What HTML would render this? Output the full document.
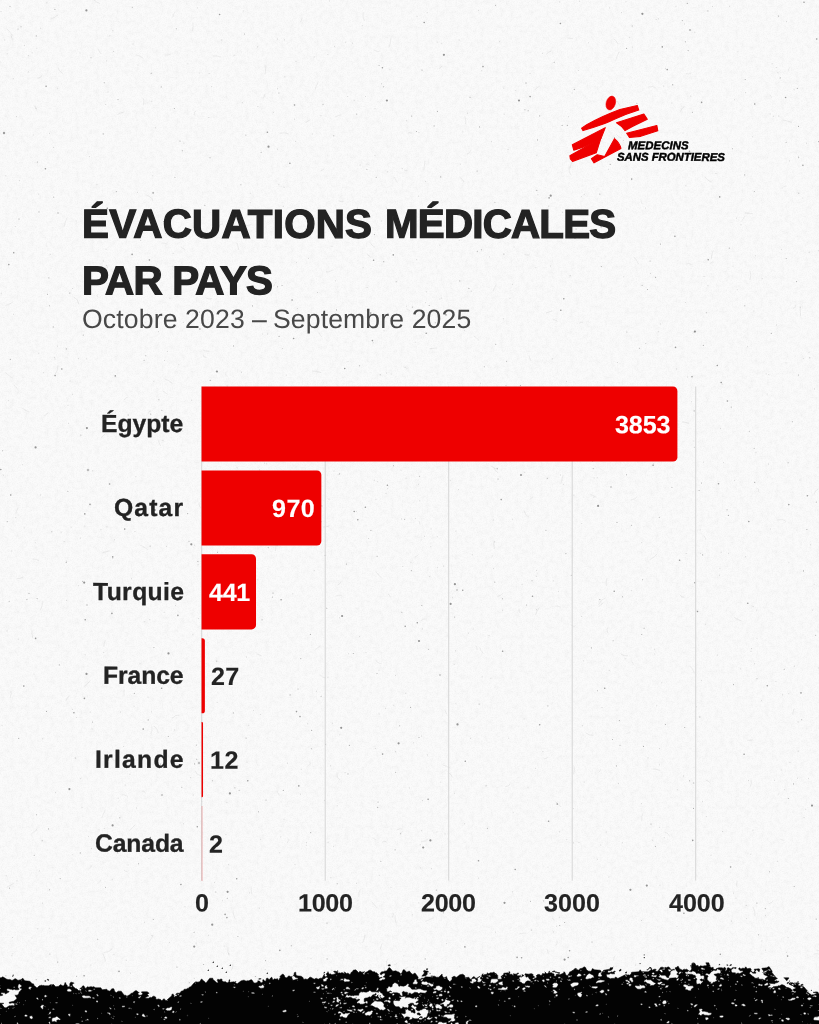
<!DOCTYPE html>
<html lang="fr">
<head>
<meta charset="utf-8">
<title>Évacuations médicales par pays</title>
<style>
  html,body{margin:0;padding:0;}
  body{width:819px;height:1024px;position:relative;overflow:hidden;background:#fbfbfb;
       font-family:"Liberation Sans",sans-serif;color:#232323;}
  .abs{position:absolute;}
  .tx{position:absolute;white-space:nowrap;}
  .b{font-weight:bold;}
  .bi{font-weight:bold;font-style:italic;color:#000;}
  .sub{color:#484848;}
  .w{color:#fff;}
</style>
</head>
<body>
<svg class="abs" style="left:0;top:0" width="819" height="1024" viewBox="0 0 819 1024">
<defs><filter id="mot" x="0" y="0" width="100%" height="100%"><feTurbulence type="fractalNoise" baseFrequency="0.2" numOctaves="3" seed="4"/><feColorMatrix type="matrix" values="0 0 0 0 0  0 0 0 0 0  0 0 0 0 0  2.2 0 0 0 -0.85"/></filter><filter id="grn" x="0" y="0" width="100%" height="100%"><feTurbulence type="fractalNoise" baseFrequency="0.8" numOctaves="2" seed="8"/><feColorMatrix type="matrix" values="0 0 0 0 0  0 0 0 0 0  0 0 0 0 0  1.6 0 0 0 -0.6"/></filter></defs>
<rect width="819" height="1024" fill="#000" filter="url(#mot)" opacity="0.018"/>
<rect width="819" height="1024" fill="#000" filter="url(#grn)" opacity="0.035"/>
<path d="M659.3 827.3h.01M234.1 55.2h.01M334.5 46.4h.01M818.3 668.0h.01M691.4 401.8h.01M222.3 900.8h.01M556.2 891.0h.01M733.4 893.1h.01M579.4 1.2h.01M357.6 208.1h.01M660.3 324.0h.01M415.3 518.5h.01M11.9 955.6h.01M560.4 475.0h.01M392.7 981.5h.01M329.3 0.9h.01M268.1 1012.6h.01M674.2 161.0h.01M114.5 539.8h.01M402.8 566.5h.01M707.9 285.4h.01M46.9 2.8h.01M4.7 40.0h.01M175.0 208.1h.01M286.2 375.2h.01M307.7 723.7h.01M413.7 742.8h.01M258.9 506.2h.01M35.2 542.7h.01M429.8 576.6h.01M611.4 978.3h.01M363.2 267.7h.01M134.1 706.2h.01M410.9 562.2h.01M165.0 750.3h.01M158.4 331.6h.01M766.1 373.9h.01M0.0 61.9h.01M324.4 800.4h.01M512.5 519.2h.01M622.3 842.7h.01M317.8 970.2h.01M720.4 428.6h.01M296.0 61.4h.01M187.9 63.8h.01M362.2 25.7h.01M752.4 136.8h.01M778.7 116.1h.01M656.1 19.5h.01M761.6 700.7h.01M777.9 72.7h.01M584.2 194.4h.01M645.7 343.5h.01M464.5 823.8h.01M259.3 908.1h.01M107.0 526.8h.01M280.8 836.9h.01M782.4 694.8h.01M537.9 194.8h.01M28.6 71.9h.01M148.9 858.6h.01M676.0 6.3h.01M12.8 953.9h.01M216.7 598.4h.01M812.7 610.0h.01M661.8 682.8h.01M535.9 267.6h.01M72.5 709.3h.01M427.5 755.0h.01M174.1 1011.5h.01M209.1 73.5h.01M459.1 40.0h.01M788.1 937.5h.01M54.3 357.4h.01M734.4 480.4h.01M746.2 905.5h.01M786.4 21.6h.01M455.9 531.1h.01M155.4 127.8h.01M266.7 463.9h.01M578.9 842.4h.01M745.5 92.7h.01M398.3 434.1h.01M597.3 859.3h.01M134.9 531.5h.01M337.1 805.7h.01M375.0 108.7h.01M243.7 11.0h.01M375.0 155.6h.01M604.1 386.0h.01M492.2 556.0h.01M597.2 477.8h.01M712.4 6.4h.01M437.2 42.2h.01M515.8 90.6h.01M772.1 63.7h.01M128.0 865.0h.01M440.8 782.1h.01M391.0 887.4h.01M328.1 842.4h.01M277.6 149.2h.01M332.0 246.3h.01M558.3 591.4h.01M582.6 725.8h.01M250.2 202.7h.01M422.3 628.9h.01M377.8 459.4h.01M225.9 834.4h.01M78.3 358.6h.01M123.7 746.5h.01M405.8 693.4h.01M401.0 470.2h.01M1.0 11.5h.01M373.2 342.8h.01M626.0 1.7h.01M656.7 705.8h.01M280.8 500.8h.01M625.1 658.8h.01M671.8 103.0h.01M694.8 32.3h.01M753.0 830.1h.01M277.4 39.0h.01M117.9 853.4h.01M490.9 678.3h.01M658.2 420.7h.01M103.3 261.0h.01M619.9 412.3h.01M459.9 966.7h.01M379.0 670.2h.01M84.8 526.1h.01M57.6 346.2h.01M413.1 967.2h.01M98.1 752.0h.01M257.9 579.9h.01M273.5 112.3h.01M627.6 110.5h.01M295.0 864.6h.01M441.6 298.1h.01M617.6 362.5h.01M106.7 265.6h.01M700.3 553.3h.01M387.7 488.7h.01M762.2 278.7h.01M631.6 590.7h.01M467.6 113.1h.01M459.2 240.4h.01M478.4 10.4h.01M243.6 492.8h.01M36.0 108.4h.01M24.2 527.9h.01M767.2 394.0h.01M22.7 464.7h.01M175.4 422.6h.01M768.6 978.4h.01M182.8 431.2h.01M508.7 738.2h.01M553.4 932.0h.01M641.5 803.6h.01M503.6 318.8h.01M814.2 584.2h.01M652.9 400.4h.01M800.0 480.0h.01M818.3 250.7h.01M731.4 921.2h.01M164.2 612.3h.01M581.3 196.6h.01M7.2 53.8h.01M148.2 680.7h.01M198.1 564.7h.01M327.9 54.5h.01M185.0 906.8h.01M387.5 171.9h.01M226.9 802.6h.01M536.2 576.3h.01M67.0 432.0h.01M18.2 639.2h.01M1.3 293.2h.01M704.0 276.5h.01M686.2 553.5h.01M737.2 289.7h.01M562.4 212.3h.01M57.7 1007.6h.01M242.3 102.6h.01M693.9 441.0h.01M439.8 245.1h.01M658.5 18.9h.01M450.2 480.4h.01M356.4 883.4h.01M13.6 314.3h.01M804.0 817.6h.01M316.4 691.3h.01M136.6 808.0h.01M702.4 801.6h.01M151.4 711.8h.01M561.1 888.1h.01M427.1 12.7h.01M38.7 194.1h.01M561.3 1000.7h.01M535.6 768.3h.01M173.0 266.8h.01M701.3 680.4h.01M311.0 958.6h.01M208.8 117.5h.01M512.5 891.9h.01M98.5 212.0h.01M808.6 778.6h.01M694.5 447.3h.01M50.2 254.4h.01M138.0 65.0h.01M641.8 542.6h.01M776.3 67.6h.01M746.4 918.6h.01M140.0 663.9h.01M703.6 462.2h.01M137.6 192.4h.01M770.3 529.0h.01M173.1 253.5h.01M536.5 609.7h.01M343.9 900.4h.01M354.1 100.3h.01M99.0 829.9h.01M658.2 331.7h.01M130.4 973.2h.01M377.3 481.7h.01M266.5 471.7h.01M588.4 42.8h.01M169.4 942.4h.01M162.9 440.6h.01M118.1 798.3h.01M446.6 943.6h.01M279.8 852.7h.01M333.6 846.3h.01M536.9 155.3h.01M802.8 198.0h.01M13.2 78.7h.01M290.8 508.5h.01M379.2 875.4h.01M608.9 877.0h.01M654.5 649.2h.01M91.4 848.4h.01M301.8 455.9h.01M345.1 772.7h.01M129.9 774.3h.01M61.2 532.2h.01M389.9 69.7h.01M685.9 185.7h.01M462.9 131.9h.01M798.6 156.3h.01M522.0 584.4h.01M677.4 789.8h.01M794.5 666.2h.01M496.7 441.0h.01M125.2 785.1h.01M513.2 812.7h.01M493.3 520.0h.01M705.3 624.2h.01M424.4 536.3h.01M420.2 844.8h.01M621.4 12.6h.01M609.2 670.4h.01M89.5 156.6h.01M332.3 723.2h.01M588.5 234.4h.01M633.7 444.3h.01M347.7 96.5h.01M326.2 210.3h.01M208.4 935.3h.01M431.1 528.9h.01M406.4 120.8h.01M228.9 953.9h.01M418.6 484.3h.01M583.4 660.9h.01M751.4 1007.3h.01M454.2 664.3h.01M339.4 617.8h.01M619.8 1020.8h.01M406.0 478.2h.01M221.5 40.0h.01M781.5 249.4h.01M626.7 992.6h.01M331.9 970.2h.01M786.6 952.3h.01M263.6 387.9h.01M618.6 783.5h.01M244.0 995.4h.01M789.9 762.4h.01M472.2 554.7h.01M659.4 764.9h.01M106.7 60.9h.01M207.4 605.6h.01M306.5 842.7h.01M437.2 536.6h.01M330.7 765.7h.01M352.4 43.2h.01M97.0 184.4h.01M648.1 757.9h.01M109.9 35.7h.01M314.2 570.6h.01M716.0 173.5h.01M406.5 306.2h.01M5.8 175.7h.01M412.2 914.8h.01M36.5 997.8h.01M341.1 978.6h.01M78.3 585.6h.01M294.6 119.2h.01M803.7 358.6h.01M507.4 974.2h.01M798.7 193.2h.01M653.7 463.9h.01M237.9 765.6h.01M419.7 500.8h.01M42.5 903.1h.01M283.3 206.2h.01M260.6 1003.0h.01M340.4 457.9h.01M717.3 655.1h.01M455.9 703.7h.01M299.9 235.5h.01M460.3 164.2h.01M510.0 298.3h.01M721.1 552.2h.01M722.1 384.1h.01M224.1 946.0h.01M676.7 369.0h.01M19.5 180.6h.01M542.4 53.3h.01M814.4 389.0h.01M578.3 70.5h.01M441.8 43.7h.01M661.7 157.4h.01M581.4 616.4h.01M227.2 386.2h.01M373.8 428.2h.01M753.1 606.6h.01M12.5 937.5h.01M149.8 619.6h.01M566.8 839.4h.01M284.1 187.3h.01M556.6 926.2h.01M386.0 493.4h.01M76.3 717.5h.01M38.8 353.2h.01M169.9 298.2h.01M15.3 226.6h.01M197.4 7.9h.01M798.3 751.1h.01M140.5 240.5h.01M7.0 631.0h.01M454.3 793.3h.01M169.9 1002.0h.01M49.5 133.4h.01M759.0 998.5h.01M230.3 477.2h.01M153.9 381.3h.01M277.2 545.8h.01M563.4 484.3h.01M478.4 878.1h.01M748.4 780.5h.01M11.9 551.0h.01M768.6 464.0h.01M568.1 458.2h.01M241.5 372.3h.01M548.7 206.2h.01M148.1 697.2h.01M506.0 385.5h.01M805.7 809.3h.01M421.1 540.0h.01M722.5 831.5h.01M754.5 663.8h.01M253.6 710.6h.01M424.7 392.8h.01M327.9 677.4h.01M365.5 96.5h.01M174.3 729.9h.01M55.0 359.0h.01M499.7 41.7h.01M262.7 334.0h.01M600.8 845.0h.01M330.9 877.7h.01M645.4 208.1h.01M112.8 558.4h.01M66.5 600.4h.01M471.2 291.3h.01M632.4 47.1h.01M257.7 46.8h.01M682.9 133.1h.01M368.6 538.5h.01M248.8 725.4h.01M339.9 734.8h.01M201.4 776.7h.01M379.2 714.0h.01M348.6 653.8h.01M698.1 1020.8h.01M6.2 875.9h.01M626.3 388.5h.01M756.0 452.5h.01M458.4 489.6h.01M751.4 648.5h.01M68.6 423.3h.01M418.9 132.6h.01M362.2 228.4h.01M776.6 325.0h.01M593.8 497.2h.01M456.1 237.4h.01M107.9 92.1h.01M594.2 478.0h.01M671.7 944.7h.01M566.6 381.4h.01M683.6 775.9h.01M552.3 358.9h.01M107.2 267.2h.01M152.0 935.5h.01M788.9 562.7h.01M113.6 51.5h.01M473.1 629.0h.01M514.0 247.0h.01M308.4 258.4h.01M750.8 854.2h.01M568.5 116.7h.01M409.6 788.0h.01M741.0 224.8h.01M736.4 218.1h.01M789.4 161.0h.01M237.1 467.8h.01M208.6 511.4h.01M374.3 480.2h.01M317.4 292.5h.01M503.8 88.1h.01M356.3 511.6h.01M345.5 42.2h.01M92.2 729.0h.01M747.5 346.6h.01M72.6 394.3h.01M471.4 224.7h.01M755.3 255.8h.01M260.7 839.3h.01M470.4 738.4h.01M770.1 114.0h.01M604.9 222.5h.01M468.4 633.2h.01M607.1 234.4h.01M386.2 192.0h.01M606.2 832.0h.01M650.6 273.4h.01M144.8 503.4h.01M733.0 266.2h.01M39.4 870.9h.01M190.5 777.7h.01M228.7 864.6h.01M756.7 610.1h.01M520.8 408.7h.01M659.6 748.6h.01M774.6 780.3h.01M737.9 51.8h.01M32.1 52.8h.01M205.6 568.6h.01M403.8 955.9h.01M287.6 763.2h.01M652.7 840.2h.01M700.2 529.9h.01M135.1 1009.0h.01M40.6 28.2h.01M455.2 403.0h.01M375.3 748.4h.01M348.0 361.7h.01M284.0 819.2h.01M359.6 636.6h.01M301.2 769.3h.01M92.8 470.7h.01M765.5 950.1h.01M672.6 84.8h.01M211.5 86.7h.01M193.0 634.8h.01M85.1 654.8h.01M806.4 143.2h.01M641.4 920.5h.01M314.1 56.9h.01M751.0 651.4h.01M68.0 405.3h.01M452.7 597.7h.01M260.3 714.5h.01M391.2 374.0h.01M770.6 1021.4h.01M86.7 358.9h.01M508.0 149.5h.01M753.9 311.0h.01M719.4 575.2h.01M548.0 867.1h.01M550.6 266.1h.01M55.6 792.7h.01M757.0 638.3h.01M178.8 364.7h.01M504.2 114.2h.01M194.3 978.5h.01M40.6 495.0h.01M809.0 352.3h.01M553.6 580.9h.01M37.8 928.7h.01M786.0 362.9h.01M464.3 330.4h.01M573.2 808.5h.01M819.0 979.8h.01M292.8 593.9h.01M687.7 377.1h.01M267.7 334.0h.01M165.5 1020.9h.01M191.8 400.3h.01M482.1 676.9h.01M144.2 843.7h.01M214.6 882.6h.01M105.7 104.5h.01M548.0 217.5h.01M278.9 184.3h.01M384.0 330.8h.01M421.4 830.8h.01M664.2 837.6h.01M101.0 529.6h.01M417.1 16.6h.01M773.5 116.2h.01M585.9 906.4h.01M800.3 307.2h.01M360.1 165.0h.01M80.4 538.1h.01M659.9 885.3h.01M809.1 252.3h.01M431.5 868.7h.01M28.5 55.7h.01M42.8 738.7h.01M334.0 471.0h.01M421.5 736.0h.01M329.0 499.2h.01M72.8 854.7h.01M761.9 941.0h.01M82.1 807.3h.01M34.0 674.1h.01M798.9 193.3h.01M512.2 397.8h.01M573.4 842.9h.01M711.0 855.2h.01M402.2 168.6h.01M113.9 954.4h.01M264.6 463.2h.01M489.4 256.9h.01M284.6 39.9h.01M559.4 831.8h.01M684.4 24.0h.01M480.4 383.2h.01M665.5 68.3h.01M57.7 88.2h.01M425.6 181.4h.01M422.4 800.6h.01M36.9 48.2h.01M282.8 994.3h.01M528.0 787.7h.01M268.9 449.7h.01M623.8 276.7h.01M635.4 965.0h.01M411.2 411.5h.01M611.0 110.3h.01M495.4 932.1h.01M144.8 621.7h.01M284.8 76.8h.01M530.0 73.4h.01M259.4 469.9h.01M781.3 770.0h.01M436.9 832.0h.01M445.0 833.9h.01M418.6 196.2h.01M494.7 541.9h.01M386.6 373.0h.01M654.8 654.0h.01M282.5 348.5h.01M768.8 374.6h.01M401.6 519.0h.01M623.6 140.4h.01M249.7 892.9h.01M420.8 868.0h.01M777.3 861.3h.01M133.0 44.1h.01M201.8 801.4h.01M183.3 322.3h.01M775.9 681.5h.01M426.4 291.9h.01M685.3 302.5h.01M53.7 147.4h.01M297.4 308.6h.01M443.7 566.1h.01M540.8 451.1h.01M524.8 472.4h.01M797.5 778.3h.01M59.2 973.4h.01M425.7 302.6h.01M166.4 546.4h.01M198.3 618.5h.01M175.4 605.6h.01M150.5 208.4h.01M43.3 372.6h.01M798.1 722.1h.01M366.0 652.6h.01M632.3 394.0h.01M135.9 476.6h.01M120.4 712.1h.01M183.9 143.1h.01M588.3 147.8h.01M512.5 284.4h.01M489.0 635.6h.01M71.1 527.3h.01M335.5 280.9h.01M320.3 452.7h.01M32.0 938.1h.01M292.0 1021.6h.01M437.3 567.6h.01M90.2 712.1h.01M90.9 965.0h.01M112.2 879.8h.01M3.3 475.2h.01M395.1 409.7h.01M24.5 45.4h.01M296.5 262.6h.01M416.7 259.6h.01M15.8 517.7h.01M295.5 141.4h.01M536.4 570.4h.01M734.5 99.8h.01M386.7 208.2h.01M745.7 556.8h.01M268.5 1002.8h.01M265.2 969.6h.01M430.8 546.7h.01M280.0 319.7h.01M663.7 86.1h.01M66.3 561.1h.01M277.5 88.7h.01M584.1 782.2h.01M418.8 902.9h.01M663.9 961.0h.01M300.4 794.2h.01M257.9 106.5h.01M677.0 926.5h.01M101.1 268.0h.01M690.7 96.1h.01M312.2 134.0h.01M712.3 157.2h.01M609.6 7.9h.01M196.1 943.2h.01M194.5 545.2h.01M2.0 725.4h.01M389.3 399.4h.01M8.7 400.4h.01M80.3 778.6h.01M740.7 668.9h.01M723.6 462.6h.01M33.2 135.0h.01M542.9 751.6h.01M710.4 996.8h.01M810.5 544.8h.01M76.2 221.0h.01M415.2 342.2h.01M629.3 37.4h.01M193.3 795.0h.01M126.3 960.2h.01M719.9 568.3h.01M385.6 708.3h.01M455.7 650.7h.01M524.1 718.9h.01M305.7 229.0h.01M601.3 118.9h.01M573.9 495.2h.01M72.6 288.5h.01M246.5 657.1h.01M788.8 693.7h.01M70.1 381.0h.01M16.6 116.6h.01M49.3 928.3h.01M17.0 880.8h.01M88.5 836.6h.01M144.4 922.3h.01M151.8 101.2h.01M320.9 115.7h.01M559.7 2.0h.01M381.4 83.8h.01M247.0 762.2h.01M376.0 499.3h.01M368.3 1002.7h.01M572.1 92.9h.01M288.8 398.4h.01M481.8 70.6h.01M125.8 235.9h.01M167.6 351.4h.01M706.3 816.6h.01M381.3 221.0h.01M765.6 915.4h.01M106.1 249.3h.01M493.6 568.6h.01M183.5 823.8h.01M104.2 828.4h.01M572.0 904.0h.01M775.0 975.7h.01M581.8 523.5h.01M729.6 6.3h.01M131.6 578.7h.01M491.6 141.7h.01M502.6 610.2h.01M646.6 436.7h.01M603.5 397.0h.01M684.2 968.4h.01M270.2 440.2h.01M165.7 233.6h.01M112.9 30.7h.01M395.4 675.5h.01M250.2 193.3h.01M199.2 73.0h.01M696.4 706.8h.01M80.0 53.0h.01M410.1 975.8h.01M393.8 705.3h.01M217.1 702.5h.01M602.0 707.5h.01M395.5 751.6h.01M152.8 175.7h.01M439.9 299.1h.01M64.1 541.6h.01M338.1 474.7h.01M608.4 169.3h.01M367.1 287.5h.01M559.7 917.2h.01M794.1 89.8h.01M736.0 898.1h.01M705.8 150.9h.01M728.7 553.3h.01M784.7 789.7h.01M306.2 845.3h.01M213.9 526.2h.01M103.3 652.6h.01M311.5 230.3h.01M164.5 360.5h.01" stroke="#444" stroke-opacity="0.3" stroke-width="0.7" stroke-linecap="round" fill="none"/>
<path d="M554.2 62.3h.01M572.1 459.3h.01M192.9 327.5h.01M327.1 958.9h.01M196.7 759.2h.01M524.9 109.7h.01M520.4 385.5h.01M158.9 399.8h.01M311.6 730.4h.01M770.7 1015.5h.01M662.4 156.5h.01M694.2 410.9h.01M60.2 878.6h.01M393.5 465.7h.01M703.3 345.4h.01M326.8 608.3h.01M410.6 707.4h.01M682.3 20.6h.01M401.8 612.3h.01M503.9 254.1h.01M53.7 197.1h.01M729.3 248.1h.01M150.7 414.1h.01M348.3 395.6h.01M411.3 570.6h.01M786.1 142.3h.01M49.9 954.0h.01M798.5 375.0h.01M468.9 288.4h.01M422.0 70.1h.01M481.5 249.7h.01M816.2 919.1h.01M272.4 597.1h.01M210.0 157.7h.01M311.4 748.7h.01M173.1 675.9h.01M346.4 564.1h.01M769.5 871.7h.01M138.5 863.8h.01M784.2 669.2h.01M376.3 177.3h.01M298.0 689.0h.01M400.7 833.8h.01M803.5 570.9h.01M9.2 601.2h.01M593.2 468.6h.01M809.8 357.7h.01M245.9 135.1h.01M327.0 923.1h.01M128.2 415.0h.01M495.7 344.3h.01M599.8 599.5h.01M144.1 360.3h.01M36.3 35.9h.01M732.5 148.8h.01M34.2 855.2h.01M801.7 719.7h.01M650.3 388.8h.01M323.0 104.2h.01M349.4 745.4h.01M788.3 798.5h.01M626.5 474.7h.01M18.7 738.4h.01M10.3 359.4h.01M641.7 634.5h.01M47.5 294.2h.01M545.9 530.3h.01M377.1 556.3h.01M614.5 137.6h.01M151.2 73.2h.01M91.0 57.7h.01M262.5 219.2h.01M601.3 266.5h.01M395.1 849.8h.01M567.3 125.4h.01M377.7 807.4h.01M530.4 460.6h.01M153.3 919.5h.01M747.4 974.2h.01M237.9 936.5h.01M174.9 177.2h.01M642.6 579.8h.01M487.4 828.3h.01M486.1 785.7h.01M194.1 932.2h.01M597.4 690.8h.01M59.3 664.9h.01M199.4 312.1h.01M212.4 780.8h.01M161.9 410.3h.01M754.3 191.5h.01M655.6 277.4h.01M537.5 139.9h.01M80.9 435.1h.01M613.1 640.8h.01M36.2 979.6h.01M699.1 490.5h.01M307.2 985.5h.01M174.4 108.5h.01M378.0 802.1h.01M105.7 1017.4h.01M321.9 505.9h.01M10.0 6.5h.01M5.9 975.7h.01M278.9 93.0h.01M576.1 229.0h.01M771.3 333.4h.01M258.5 811.7h.01M440.7 176.9h.01M300.8 658.6h.01M754.2 448.2h.01M552.4 422.3h.01M428.6 649.3h.01M731.2 407.1h.01M749.3 431.2h.01M359.6 365.7h.01M293.3 452.4h.01M37.4 162.0h.01M608.8 993.5h.01M495.5 5.2h.01M189.3 982.7h.01M547.3 478.3h.01M744.7 174.9h.01M816.3 502.1h.01M163.5 221.5h.01M429.2 305.5h.01M168.3 736.5h.01M622.5 596.8h.01M377.0 673.5h.01M466.8 1005.3h.01M262.1 619.7h.01M616.4 765.9h.01M532.0 580.7h.01M203.6 964.5h.01M139.6 267.2h.01M818.5 141.6h.01M765.3 908.6h.01M9.4 888.1h.01M160.5 764.1h.01M559.7 925.5h.01M672.8 84.7h.01M619.4 720.6h.01M249.3 483.1h.01M153.9 647.6h.01M647.3 391.2h.01M333.2 908.3h.01M459.8 280.9h.01M337.2 883.7h.01M685.4 41.8h.01M450.4 440.7h.01M475.4 394.4h.01M176.3 290.3h.01M626.6 48.4h.01M248.2 1009.2h.01M642.1 285.2h.01M419.6 476.2h.01M219.2 623.1h.01M204.8 205.3h.01M279.1 336.4h.01M353.3 653.5h.01M36.5 814.7h.01M727.1 509.8h.01M105.5 887.3h.01M543.7 900.9h.01M54.9 9.4h.01M234.9 787.8h.01M626.9 332.0h.01M7.2 521.6h.01M462.7 976.6h.01M103.2 133.9h.01M39.0 211.9h.01M497.2 468.6h.01M21.0 26.8h.01M689.6 780.7h.01M650.1 261.0h.01M798.5 126.4h.01M69.8 293.1h.01M383.8 261.6h.01M399.7 725.7h.01M466.3 225.0h.01M494.9 202.2h.01M48.9 277.9h.01M66.2 562.4h.01M310.7 832.6h.01M780.2 77.9h.01M2.6 450.8h.01M815.6 635.3h.01M540.1 436.3h.01M19.0 219.1h.01M104.3 82.8h.01M786.3 1009.6h.01M454.7 617.1h.01M233.3 712.9h.01M48.6 828.9h.01M443.4 912.8h.01M688.1 50.6h.01M217.5 552.2h.01M252.5 305.9h.01M699.8 717.0h.01M643.5 746.4h.01M380.8 861.2h.01M383.6 86.8h.01M266.0 800.0h.01M610.2 164.4h.01M477.1 171.0h.01M379.1 65.5h.01M706.3 312.7h.01M282.1 285.5h.01M506.6 361.3h.01M815.7 1007.9h.01M498.0 479.1h.01M53.2 326.9h.01M745.2 79.5h.01M227.3 898.2h.01M744.8 305.8h.01M620.0 745.3h.01M659.3 517.2h.01M18.0 29.0h.01M291.3 945.7h.01M684.7 727.5h.01M187.7 513.6h.01M57.7 962.1h.01M592.6 461.0h.01M591.4 647.9h.01M701.5 483.0h.01M118.0 99.6h.01M794.2 886.5h.01M421.8 605.5h.01M599.8 194.1h.01M435.3 322.8h.01M277.6 286.7h.01M227.2 1011.5h.01M398.9 418.7h.01M632.2 26.0h.01M97.7 939.3h.01M37.1 598.6h.01M310.4 634.4h.01M665.4 724.5h.01M411.7 116.1h.01M644.1 628.2h.01M617.0 522.4h.01M257.2 428.8h.01M370.4 314.8h.01M526.6 605.0h.01M528.2 110.7h.01M564.6 922.5h.01M530.5 901.2h.01M454.4 986.8h.01M647.5 289.5h.01M370.9 530.5h.01M792.4 421.7h.01M216.8 661.1h.01M655.4 846.5h.01M660.5 244.1h.01M92.5 722.0h.01M798.7 157.6h.01M531.3 930.0h.01M707.9 10.9h.01M419.0 737.5h.01M778.5 16.1h.01M817.1 1017.2h.01M46.5 711.4h.01M339.6 473.9h.01M26.9 599.5h.01M296.3 396.2h.01M120.7 1017.8h.01M42.2 840.7h.01M290.1 694.9h.01M651.0 824.1h.01M366.9 169.2h.01M612.5 739.5h.01M502.4 598.7h.01M793.5 783.9h.01M168.5 1019.9h.01M182.4 150.8h.01M786.2 258.5h.01M806.9 529.5h.01M239.1 790.3h.01M437.4 111.4h.01M547.9 705.9h.01M758.6 934.8h.01M797.3 88.4h.01M336.5 309.9h.01M436.1 1005.5h.01M479.5 126.9h.01M189.0 541.2h.01M796.6 281.6h.01M631.4 525.3h.01M145.8 355.7h.01M592.0 942.0h.01M356.7 114.1h.01M150.1 546.1h.01M325.1 555.3h.01M119.8 817.8h.01M49.6 889.7h.01M562.1 125.4h.01M494.8 582.1h.01M687.3 3.4h.01M49.4 305.8h.01M636.8 103.3h.01M268.2 547.6h.01M83.2 335.1h.01M479.1 704.1h.01M436.3 890.1h.01M639.4 348.3h.01M788.1 462.8h.01M181.8 787.3h.01M161.2 86.9h.01M76.6 976.2h.01M570.1 275.8h.01M693.5 808.4h.01M258.9 411.3h.01M194.6 763.9h.01M380.2 374.8h.01M571.3 575.3h.01M233.6 345.9h.01M470.0 97.2h.01M244.6 34.0h.01M80.3 852.9h.01M240.9 184.7h.01M67.8 491.2h.01M671.9 487.2h.01M148.2 719.9h.01M325.6 744.4h.01M484.3 366.8h.01M395.6 772.3h.01M574.3 89.4h.01M321.1 696.2h.01M425.2 958.9h.01M333.8 135.7h.01M177.0 967.1h.01M196.3 745.1h.01M390.7 235.0h.01M116.3 191.6h.01M756.9 903.1h.01M636.0 1003.9h.01M246.1 738.1h.01M98.3 1000.7h.01M728.4 515.4h.01M477.3 251.2h.01M283.3 790.4h.01M474.7 215.8h.01M51.8 531.8h.01M66.3 348.9h.01M434.1 125.9h.01M29.0 593.4h.01M144.0 595.0h.01M261.2 152.2h.01M733.5 684.6h.01M210.2 380.4h.01M180.0 141.1h.01M635.7 973.0h.01M280.5 492.8h.01M693.7 783.0h.01M754.7 482.4h.01M215.8 892.0h.01M404.6 519.2h.01M757.0 678.8h.01M412.3 307.1h.01M75.3 758.0h.01M134.3 693.4h.01M132.3 7.3h.01M197.9 561.4h.01M176.3 28.8h.01M565.9 553.6h.01M416.5 131.5h.01M265.6 960.6h.01M554.2 996.8h.01M396.2 281.7h.01M536.8 190.4h.01M82.6 581.3h.01M321.0 521.8h.01M692.4 112.2h.01M255.4 976.5h.01M702.6 554.9h.01M539.7 115.9h.01M374.4 234.6h.01M348.0 773.9h.01" stroke="#444" stroke-opacity="0.4" stroke-width="1.1" stroke-linecap="round" fill="none"/>
<path d="M356.2 997.6h.01M692.0 376.7h.01M517.1 957.4h.01M279.8 950.4h.01M177.9 615.4h.01M557.2 804.1h.01M674.9 236.2h.01M13.7 252.7h.01M224.7 500.1h.01M754.7 104.0h.01M393.3 254.9h.01M55.1 375.6h.01M387.4 485.2h.01M149.4 260.0h.01M532.5 596.3h.01M549.1 197.9h.01M462.7 590.3h.01M84.4 698.4h.01M653.1 465.3h.01M292.1 300.0h.01M560.4 23.5h.01M294.5 105.0h.01M679.6 560.3h.01M428.1 799.3h.01M689.5 151.2h.01M46.1 86.3h.01M281.1 599.8h.01M370.7 313.1h.01M365.4 507.3h.01M530.1 96.6h.01M802.9 165.3h.01M804.0 2.3h.01M747.8 603.2h.01M692.7 840.4h.01M437.2 414.0h.01M85.2 619.7h.01M196.6 983.7h.01M614.2 591.3h.01M430.1 973.5h.01M45.4 168.7h.01M109.6 484.0h.01M300.0 716.6h.01M563.8 298.8h.01M112.7 556.9h.01M225.1 914.4h.01M61.8 369.0h.01M293.6 338.5h.01M744.1 754.2h.01M596.8 906.2h.01M8.8 264.6h.01M372.4 340.6h.01M502.6 651.2h.01M226.9 917.6h.01M683.9 913.2h.01M540.6 412.2h.01M267.4 132.3h.01M748.8 521.5h.01M115.3 375.9h.01M675.5 347.4h.01M382.6 754.1h.01M478.5 860.8h.01M484.8 220.5h.01M289.9 163.2h.01M35.6 638.4h.01M730.6 867.0h.01M219.6 14.5h.01M23.8 686.1h.01M180.9 884.5h.01M456.2 990.9h.01M543.1 424.0h.01M515.2 869.5h.01M568.2 957.5h.01M357.8 519.7h.01M247.8 780.8h.01M465.3 761.2h.01M0.8 469.5h.01M405.2 626.2h.01M604.7 688.2h.01M570.2 996.0h.01M417.3 622.7h.01M644.3 954.9h.01M433.9 1008.5h.01M84.8 513.9h.01M197.3 826.7h.01M697.5 611.5h.01M816.7 39.0h.01M548.6 821.2h.01M111.9 613.4h.01M382.4 67.7h.01M501.2 499.6h.01M785.6 97.5h.01M631.7 179.1h.01M236.7 878.8h.01M119.0 971.4h.01M464.9 946.9h.01M727.4 401.0h.01M708.2 259.8h.01M354.2 511.5h.01M718.5 483.7h.01M153.1 192.9h.01M801.0 692.9h.01M161.6 688.2h.01M788.8 504.6h.01M640.1 997.5h.01M720.3 954.2h.01M667.2 69.6h.01M412.3 220.5h.01M787.6 956.1h.01M569.2 456.7h.01M90.0 504.4h.01M373.6 260.2h.01M298.8 785.9h.01M601.1 226.7h.01M721.2 382.5h.01M218.2 434.4h.01M132.1 254.4h.01M767.3 685.8h.01M107.3 208.2h.01M426.2 333.2h.01M701.6 102.4h.01M124.7 529.1h.01M539.7 724.8h.01M694.9 582.7h.01M483.0 66.6h.01M84.1 975.7h.01M560.8 310.2h.01M143.2 729.1h.01M150.3 837.5h.01M344.7 368.5h.01M10.7 495.0h.01M296.5 711.6h.01M446.0 314.9h.01M199.9 329.0h.01M719.7 196.9h.01M351.8 425.9h.01M521.6 957.8h.01M662.3 46.9h.01M213.1 605.7h.01M717.3 365.5h.01M424.2 22.5h.01M174.1 1020.8h.01M569.6 950.7h.01M73.9 712.7h.01M807.4 495.7h.01" stroke="#444" stroke-opacity="0.5" stroke-width="1.6" stroke-linecap="round" fill="none"/>
<path d="M550.7 195.7h.01M342.1 616.0h.01M642.4 13.8h.01M191.3 544.3h.01M84.2 582.6h.01M212.2 924.7h.01M398.6 743.3h.01M112.6 825.4h.01M386.9 100.5h.01M216.9 371.5h.01M812.0 805.6h.01M454.9 584.2h.01M457.5 724.4h.01M69.4 789.1h.01M504.5 902.8h.01M430.4 840.4h.01M287.4 454.0h.01M598.1 505.9h.01M268.5 146.7h.01M341.2 727.8h.01M35.6 447.4h.01M361.8 393.2h.01M630.4 889.8h.01M86.4 10.4h.01M419.0 641.0h.01M194.2 946.6h.01M86.5 673.9h.01M86.9 428.1h.01M229.9 793.4h.01M450.6 603.9h.01M443.9 54.8h.01M423.2 847.5h.01M168.5 653.4h.01M694.9 331.6h.01M646.8 885.6h.01M227.6 891.8h.01M154.7 510.1h.01M564.6 959.6h.01M519.0 100.5h.01M63.8 993.7h.01M214.0 234.2h.01" stroke="#444" stroke-opacity="0.55" stroke-width="2.2" stroke-linecap="round" fill="none"/>
<path d="M745 966q0.2 0.8 -2.6 3.8M521 1021q-3.9 -1.0 -8.0 1.2M734 617q1.7 2.0 7.3 4.0M13 302q-2.7 2.1 -7.1 3.4M124 870q-0.2 1.3 3.1 1.7M196 111q-2.4 0.6 -1.8 4.1M90 681q-2.3 3.1 -5.7 5.5M404 170q0.2 1.1 3.4 0.4M386 842q0.2 -1.7 -3.5 0.1M307 519q2.7 0.5 7.0 5.1M757 488q2.2 0.2 1.8 3.8M58 68q0.3 2.6 4.4 5.5M32 631q-0.4 3.3 0.7 6.7M526 933q-4.7 0.1 -6.5 0.8M491 466q2.4 2.2 6.7 3.3M574 766q1.3 2.5 -0.3 8.0M433 918q-3.9 2.1 -7.4 3.3M589 981q0.8 4.2 4.6 5.3M553 319q0.3 -0.1 4.1 2.2M445 710q0.2 1.4 1.7 3.8M425 997q-1.9 0.5 -5.2 2.3M277 791q0.2 1.3 2.2 4.1M557 941q1.0 3.6 -1.2 4.2M136 55q4.0 0.3 6.9 2.9M705 177q2.6 4.0 6.4 4.9M603 603q-2.0 1.9 -4.3 3.5M770 95q2.3 2.8 1.7 2.8M143 98q2.0 1.5 0.5 6.6M552 311q-1.7 0.9 -5.6 1.7M124 690q-0.3 1.1 0.1 5.1M529 356q0.4 2.8 1.7 4.4M206 298q3.2 1.5 5.6 0.8M547 949q0.9 1.4 1.1 4.5M752 740q-3.3 0.7 -4.4 0.2M367 254q1.3 1.7 3.6 3.2M484 999q-2.0 2.1 -0.1 4.6M621 654q2.4 2.6 6.5 1.8M601 769q0.4 -0.2 -1.7 2.8M7 29q2.5 2.7 5.8 6.6M265 65q1.3 6.4 0.2 8.9M98 294q-1.9 1.3 -0.3 3.1M318 82q-2.4 4.8 -2.7 7.2M780 839q3.0 1.7 3.9 1.4M74 297q4.2 2.3 4.8 6.8M280 133q4.9 -0.8 8.7 0.9M437 348q-3.6 0.4 -7.1 0.7M35 106q1.4 2.3 1.4 3.3M151 411q-2.5 -0.8 -2.3 2.1M372 902q2.4 3.1 4.9 5.8M665 832q2.9 0.8 4.7 4.3M363 13q-0.7 4.8 1.4 7.6M105 434q-1.6 2.0 -3.6 3.7M680 595q0.9 2.4 3.7 2.2M569 904q-1.7 4.4 -3.4 5.0M418 555q-2.3 2.3 -3.0 2.3M146 195q5.3 1.2 6.8 5.3M319 333q1.8 2.7 2.6 3.8M94 0q3.6 3.2 5.5 3.4M391 38q-0.8 6.0 -1.4 8.0M714 262q-0.9 -0.7 -3.6 1.1M67 218q-2.5 5.2 -2.8 8.3M310 120q-3.8 1.3 -4.2 2.6M510 784q-0.5 2.4 -4.4 2.8M265 94q-0.7 3.2 -2.0 4.0M158 440q0.9 2.2 2.5 5.8M533 497q0.3 -0.4 -3.1 2.3M135 825q-2.0 2.3 -5.6 5.8M496 285q-1.8 3.3 -2.9 6.3M382 944q-1.8 3.9 -1.7 5.1M14 385q2.3 3.1 3.4 3.9M617 135q3.1 3.3 4.0 2.8M37 829q-0.6 2.6 -5.1 4.2M555 606q2.0 -0.6 5.7 1.2M193 23q0.5 3.4 -0.5 8.0M388 1010q1.1 2.1 3.0 7.5M474 336q3.8 3.0 5.1 4.5M783 120q4.8 1.0 8.5 2.2M608 627q-1.9 1.9 -0.4 5.8M388 959q-2.4 1.7 -1.0 6.8M103 954q3.0 5.7 2.1 7.7M817 950q3.2 0.4 5.0 2.3M126 293q1.5 -1.4 3.3 1.0M233 964q0.7 1.7 -1.5 6.0M328 1020q3.5 0.0 5.9 1.0M551 51q-2.1 0.6 -4.5 2.9M374 50q4.0 2.5 5.3 1.3M18 508q-2.1 3.7 -2.0 4.8M376 572q1.4 1.5 5.6 6.2M305 1021q-1.2 3.5 -0.5 3.5M91 278q0.6 2.7 2.6 5.7M339 201q1.2 0.7 4.2 0.4M745 213q2.3 -0.2 7.6 0.7M461 178q1.1 0.9 2.7 3.7M605 598q-4.9 1.7 -6.3 6.3M203 350q1.8 1.4 5.8 1.2M203 355q0.2 2.6 3.0 2.5M615 956q-1.4 0.1 -1.4 3.8M614 39q2.8 1.8 3.9 4.7M233 911q-0.3 3.0 2.2 8.1M298 415q3.2 1.0 6.2 2.2M366 164q2.1 -0.4 3.4 0.9M112 949q-2.0 2.9 -7.7 3.5M737 881q-1.3 3.0 0.1 5.9M442 66q-1.3 2.1 -2.4 2.4M42 75q-0.4 3.0 -4.6 3.2M336 596q5.0 -1.9 6.1 0.2M213 56q4.0 -0.5 7.6 0.9M695 331q0.4 0.6 -2.4 2.2M569 167q-0.6 5.8 1.8 8.0M657 554q-2.5 3.4 -7.0 5.6M228 948q-1.2 3.5 1.2 7.4M181 247q3.7 2.5 3.9 2.6M480 648q0.6 2.5 3.0 5.4M412 133q-2.8 -1.0 -4.2 0.0M403 831q-0.1 0.4 -2.9 2.3M641 200q-0.2 1.3 1.1 3.9M607 578q-1.3 5.3 -0.8 7.3M524 511q1.4 4.6 5.0 6.5M426 619q-2.3 -0.9 -4.6 1.3M443 765q2.7 0.6 6.9 2.9M586 733q2.3 2.9 7.3 2.3M110 757q2.7 2.0 4.7 4.1M395 916q-0.5 2.1 1.1 6.7M796 305q-0.7 3.6 -2.8 3.6M171 54q-2.7 1.6 -6.1 1.1M690 666q2.7 2.5 4.2 6.7M105 641q-1.5 3.7 -1.1 5.4M800 307q0.4 5.9 0.6 8.8M226 372q-1.3 3.8 0.6 4.3M165 379q4.9 1.7 7.3 4.4M162 243q3.1 -0.4 4.9 0.9M360 890q-1.8 2.2 -1.0 6.4M276 282q-1.5 2.2 -2.2 4.3M23 577q-3.3 2.2 -5.4 1.7M175 12q-2.0 2.0 -2.4 5.2M276 544q-0.3 4.4 -0.5 6.6M753 907q2.6 3.9 2.0 8.8M289 839q0.8 0.8 -1.7 3.7M251 887q-0.1 2.6 0.8 6.9M384 967q-0.8 2.5 1.6 4.6M370 990q-2.8 1.4 -8.5 0.7M617 101q3.1 4.5 3.3 5.3M713 251q-1.5 3.4 -1.7 7.9M704 536q1.3 0.5 1.9 3.5M199 503q-0.1 4.5 3.2 5.3M583 322q-1.7 -0.0 -3.5 1.0M11 691q1.1 1.8 -0.8 6.7M122 795q0.9 -1.2 5.6 1.3M45 1020q-3.8 2.8 -7.0 3.6M14 883q-3.1 2.3 -7.0 4.0M676 981q0.7 3.8 1.6 4.5M58 366q-0.3 5.3 -2.7 8.1M408 967q-4.0 1.6 -4.6 4.7M404 367q3.2 0.6 3.3 1.7M163 391q2.7 2.2 4.6 3.2M563 475q-0.6 2.5 -2.0 8.4M329 526q-4.5 1.4 -5.1 1.3M773 901q-0.2 1.8 -3.7 2.7M449 773q2.8 1.3 3.1 3.9M252 224q-2.6 2.4 -7.8 1.8M130 431q3.2 -0.9 8.9 0.3M333 270q-5.1 2.8 -6.5 1.8M818 489q-3.8 2.2 -3.9 5.1M6 373q2.8 2.3 5.2 4.3M153 936q-1.6 2.3 -4.2 6.4M539 608q-2.5 3.3 -3.5 6.7M548 757q-0.9 1.3 -3.4 1.9M745 216q-1.2 1.9 -3.3 5.2M531 407q2.9 1.0 3.2 4.5M222 487q0.7 1.1 -2.6 4.0M394 177q1.0 0.9 3.2 5.4M397 963q-2.3 2.8 -2.9 2.1M48 413q-2.2 0.6 -3.3 2.9M682 422q2.3 -0.8 6.7 1.6M630 732q-1.2 0.8 -3.2 1.4M751 780q1.2 2.7 -0.5 6.3M341 115q-1.2 -0.2 -5.5 1.7M138 839q-1.8 2.9 0.4 7.7M476 646q1.3 1.3 1.2 3.5M530 254q-0.8 2.0 -5.2 0.7M572 162q-1.0 2.2 -2.0 5.8M33 559q3.5 -0.4 5.7 1.6M637 497q-1.6 2.5 -5.9 2.8M237 243q0.8 1.8 1.7 6.6M58 15q-5.0 3.8 -7.1 4.0M684 107q-2.9 1.2 -3.4 4.2M648 87q5.5 -1.4 7.3 0.5M428 839q-1.4 2.5 -6.6 2.9M337 773q-0.7 4.9 2.7 6.7M98 49q1.5 3.2 2.9 4.7M393 913q1.3 0.8 -0.6 4.4M488 981q-0.8 3.2 -2.3 2.7M691 73q-2.6 1.8 -4.6 0.7M69 696q-3.0 3.6 -3.0 4.4M571 625q3.7 2.4 4.4 0.8M124 112q-4.4 1.1 -6.4 2.4M324 169q0.3 0.5 -3.0 1.6M568 38q1.3 0.7 4.6 0.5M371 244q2.0 2.4 3.6 3.2M794 709q-1.4 3.6 -1.2 5.4M819 954q-1.4 -0.9 -4.8 0.0M86 997q4.4 1.8 6.9 0.2M419 521q1.0 0.6 0.8 3.0M195 771q1.4 4.1 5.6 4.7M179 715q-3.6 -0.3 -7.0 3.3M140 545q3.0 1.2 7.4 4.3M411 983q-1.2 1.8 -0.9 3.4M634 257q3.6 4.3 4.5 6.9M632 662q2.1 2.3 1.4 2.8M142 791q3.0 -0.7 3.3 1.9M101 880q0.2 0.6 -2.8 3.3M653 769q4.8 0.2 6.5 1.2M402 829q-1.3 -1.3 -5.2 0.8M257 654q2.1 0.5 4.4 1.9M556 802q0.9 0.4 4.7 4.5M128 397q-1.7 -0.4 -4.0 3.0M552 918q-0.2 -0.7 2.5 2.2M494 468q0.9 2.2 3.7 4.8M388 594q1.1 -0.2 2.3 2.6M471 150q-1.8 3.8 -3.5 4.1M503 593q-1.7 2.6 -5.4 3.7M540 86q-3.3 1.2 -5.4 4.1M686 264q2.1 -1.7 5.4 0.5M619 52q-2.8 5.2 -3.2 8.4M92 865q0.1 -0.2 -2.1 3.1M365 935q-0.6 5.1 -2.2 7.4M313 371q2.2 -0.3 8.0 1.6M786 186q-2.7 -0.5 -4.1 2.7M22 408q4.0 2.9 6.9 4.0M11 35q0.3 2.9 1.7 4.5M778 520q5.8 -1.2 7.8 1.3M341 582q-0.8 2.1 -3.3 3.2M152 727q0.3 5.0 -1.0 6.5M217 835q1.5 0.9 2.9 3.8M516 1006q0.4 2.2 3.8 0.6M320 646q-2.5 1.3 -4.9 4.2M465 117q1.5 4.3 0.6 6.8M494 541q-0.4 3.5 0.3 7.4M590 494q1.3 0.7 6.0 3.0M222 224q-2.3 0.2 -3.7 2.4M425 161q-0.4 2.8 -1.1 8.9M376 660q0.5 3.2 4.9 3.5M320 675q1.9 2.2 5.5 3.0M154 726q3.9 2.8 4.2 7.0M260 480q-0.1 1.8 -1.1 7.2M407 309q1.7 0.8 2.7 1.9M310 762q1.2 2.3 -1.0 3.5M779 793q-1.3 3.3 -1.3 2.9M706 780q1.9 0.6 4.4 3.1M519 609q-0.3 3.4 0.8 3.8M302 18q-0.4 2.2 -1.2 3.9M109 551q-3.5 1.0 -6.1 1.4M206 569q0.9 0.2 4.7 4.4M105 810q-1.4 3.5 -3.1 7.8M262 1011q-2.5 2.8 -5.4 3.4M750 271q2.0 3.8 0.0 8.7M790 67q-2.4 2.8 -1.5 4.0M43 601q-0.8 5.9 -2.4 8.6M373 838q1.9 1.1 2.8 1.9M643 813q-2.0 3.0 -1.2 7.9" stroke="#666" stroke-opacity="0.14" stroke-width="0.7" stroke-linecap="round" fill="none"/>
<circle cx="4" cy="133" r="1.2" fill="#333" fill-opacity="0.45"/>
<circle cx="88" cy="470" r="1.3" fill="#333" fill-opacity="0.3"/>
<circle cx="58" cy="213" r="0.8" fill="#333" fill-opacity="0.3"/>
<circle cx="162" cy="795" r="1.0" fill="#333" fill-opacity="0.25"/>
<circle cx="199" cy="763" r="1.2" fill="#333" fill-opacity="0.28"/>
<circle cx="440" cy="675" r="0.8" fill="#333" fill-opacity="0.4"/>
<circle cx="521" cy="475" r="1.0" fill="#333" fill-opacity="0.5"/>
<circle cx="611" cy="487" r="0.7" fill="#333" fill-opacity="0.45"/>
<circle cx="457" cy="590" r="0.7" fill="#333" fill-opacity="0.45"/>
<circle cx="273" cy="593" r="0.6" fill="#333" fill-opacity="0.4"/>
<circle cx="87" cy="605" r="0.7" fill="#333" fill-opacity="0.35"/>
<circle cx="690" cy="30" r="1.1" fill="#333" fill-opacity="0.3"/>
<circle cx="575" cy="238" r="0.8" fill="#333" fill-opacity="0.4"/>
<circle cx="526" cy="83" r="0.7" fill="#333" fill-opacity="0.3"/>
</svg>
<!-- logo -->
<svg class="abs" style="left:565px;top:92px" width="100" height="75" viewBox="0 0 819 614">
  <g fill="#ee0000" stroke="#ee0000" stroke-width="9" stroke-linejoin="round">
    <ellipse cx="375" cy="90" rx="38" ry="58" transform="rotate(17 375 90)" stroke-width="4"/>
    <path d="M136 296 L178 268 Q300 198 450 143 L592 110 L604 148 Q500 180 400 225 Q330 260 230 290 L148 316 Z"/>
    <path d="M60 432 L330 292 L296 378 L165 447 L72 476 Z"/>
    <path d="M40 522 L168 451 L294 378 L256 498 L62 568 L44 548 Z"/>
    <path d="M422 252 L646 180 L674 224 L560 278 L492 316 Q462 275 422 252 Z"/>
    <path d="M505 338 L752 274 L760 318 L620 363 L528 372 Z"/>
    <path d="M405 382 Q448 418 458 462 L238 580 L216 546 L264 514 L325 528 Z"/>
  </g>
</svg>

<div class="tx bi" style="left:628.03px;top:138px;font-size:11.4px;line-height:15px;letter-spacing:0.07px;transform:translateY(0.25px) rotate(0.05deg);-webkit-text-stroke:0.45px;">MEDECINS</div>
<div class="tx bi" style="left:616.9px;top:149px;font-size:11.4px;line-height:15px;letter-spacing:-0.03px;transform:translateY(0.85px) rotate(0.05deg);-webkit-text-stroke:0.45px;">SANS FRONTIERES</div>

<!-- title -->
<h1 style="margin:0;font:inherit">
<span class="tx b" style="left:82.43px;top:197px;font-size:40.3px;line-height:53px;letter-spacing:0.27px;transform:translateY(0.67px) rotate(0.05deg);-webkit-text-stroke:1.3px;">ÉVACUATIONS</span>
<span class="tx b" style="left:385.36px;top:197px;font-size:40.3px;line-height:53px;letter-spacing:-0.76px;transform:translateY(0.67px) rotate(0.05deg);-webkit-text-stroke:1.3px;">MÉDICALES</span>
<span class="tx b" style="left:82.43px;top:254px;font-size:40.3px;line-height:53px;letter-spacing:-0.76px;transform:translateY(0.27px) rotate(0.05deg);-webkit-text-stroke:1.3px;">PAR PAYS</span>
</h1>
<p style="margin:0">
<span class="tx sub" style="left:82.37px;top:302px;font-size:26.6px;line-height:35px;letter-spacing:0.14px;transform:translateY(0.0px) rotate(0.05deg);">Octobre 2023</span>
<span class="tx sub" style="left:252.12px;top:302px;font-size:26.6px;line-height:35px;letter-spacing:0px;transform:translateY(0.0px) rotate(0.05deg);">–</span>
<span class="tx sub" style="left:272.84px;top:302px;font-size:26.6px;line-height:35px;letter-spacing:0.12px;transform:translateY(0.0px) rotate(0.05deg);">Septembre 2025</span>
</p>

<!-- chart: grid lines and bars -->
<svg class="abs" style="left:0;top:0" width="819" height="1024" viewBox="0 0 819 1024">
<g fill="#d6d6d6">
<rect x="201.20" y="386.5" width="1" height="494.1"/>
<rect x="324.70" y="386.5" width="1" height="494.1"/>
<rect x="448.20" y="386.5" width="1" height="494.1"/>
<rect x="571.70" y="386.5" width="1" height="494.1"/>
<rect x="695.20" y="386.5" width="1" height="494.1"/>
</g>
<g fill="#ee0000">
<path d="M201.55 386.50H673.00A4.40 4.40 0 0 1 677.40 390.90V457.20A4.40 4.40 0 0 1 673.00 461.60H201.55Z"/>
<path d="M201.55 470.40H316.95A4.40 4.40 0 0 1 321.35 474.80V541.10A4.40 4.40 0 0 1 316.95 545.50H201.55Z"/>
<path d="M201.55 554.30H251.61A4.40 4.40 0 0 1 256.01 558.70V625.00A4.40 4.40 0 0 1 251.61 629.40H201.55Z"/>
<path d="M201.55 638.20H202.22A2.67 2.67 0 0 1 204.88 640.87V710.63A2.67 2.67 0 0 1 202.22 713.30H201.55Z"/>
<path d="M201.55 722.10H201.85A1.19 1.19 0 0 1 203.03 723.29V796.01A1.19 1.19 0 0 1 201.85 797.20H201.55Z"/>
<rect x="201.55" y="806.00" width="1" height="75.1" fill-opacity="0.25"/>
</g></svg>

<!-- country labels -->
<div class="tx b" style="left:101.47px;top:407px;font-size:24.7px;line-height:33px;letter-spacing:-0.0px;transform:translateY(0.05px) rotate(0.05deg);-webkit-text-stroke:0.3px;">Égypte</div>
<div class="tx b" style="left:113.9px;top:490px;font-size:24.7px;line-height:33px;letter-spacing:1.14px;transform:translateY(0.95px) rotate(0.05deg);-webkit-text-stroke:0.3px;">Qatar</div>
<div class="tx b" style="left:92.71px;top:574px;font-size:24.7px;line-height:33px;letter-spacing:0.4px;transform:translateY(0.95px) rotate(0.05deg);-webkit-text-stroke:0.3px;">Turquie</div>
<div class="tx b" style="left:103.19px;top:658px;font-size:24.7px;line-height:33px;letter-spacing:-0.07px;transform:translateY(0.85px) rotate(0.05deg);-webkit-text-stroke:0.3px;">France</div>
<div class="tx b" style="left:95.24px;top:742px;font-size:24.7px;line-height:33px;letter-spacing:1.25px;transform:translateY(0.75px) rotate(0.05deg);-webkit-text-stroke:0.3px;">Irlande</div>
<div class="tx b" style="left:94.61px;top:826px;font-size:24.7px;line-height:33px;letter-spacing:-0.12px;transform:translateY(0.65px) rotate(0.05deg);-webkit-text-stroke:0.3px;">Canada</div>

<!-- values -->
<div class="tx b w" style="left:614.86px;top:408px;font-size:25.1px;line-height:33px;letter-spacing:-0.08px;transform:translateY(0.15px) rotate(0.05deg);-webkit-text-stroke:0.15px;">3853</div>
<div class="tx b w" style="left:272.05px;top:492px;font-size:25.1px;line-height:33px;letter-spacing:0.45px;transform:translateY(0.05px) rotate(0.05deg);-webkit-text-stroke:0.15px;">970</div>
<div class="tx b w" style="left:209.11px;top:575px;font-size:25.1px;line-height:33px;letter-spacing:-0.3px;transform:translateY(0.95px) rotate(0.05deg);-webkit-text-stroke:0.15px;">441</div>
<div class="tx b" style="left:211.41px;top:659px;font-size:25.1px;line-height:33px;letter-spacing:0.25px;transform:translateY(0.95px) rotate(0.05deg);-webkit-text-stroke:0.15px;">27</div>
<div class="tx b" style="left:209.72px;top:743px;font-size:25.1px;line-height:33px;letter-spacing:0.48px;transform:translateY(0.85px) rotate(0.05deg);-webkit-text-stroke:0.15px;">12</div>
<div class="tx b" style="left:208.82px;top:827px;font-size:25.1px;line-height:33px;letter-spacing:0px;transform:translateY(0.75px) rotate(0.05deg);-webkit-text-stroke:0.15px;">2</div>

<!-- x axis ticks -->
<div class="tx b" style="left:194.53px;top:886px;font-size:25.1px;line-height:33px;letter-spacing:0px;transform:translateY(0.45px) rotate(0.05deg);-webkit-text-stroke:0.15px;">0</div>
<div class="tx b" style="left:297.51px;top:886px;font-size:25.1px;line-height:33px;letter-spacing:-0.27px;transform:translateY(0.45px) rotate(0.05deg);-webkit-text-stroke:0.15px;">1000</div>
<div class="tx b" style="left:421.04px;top:886px;font-size:25.1px;line-height:33px;letter-spacing:-0.29px;transform:translateY(0.45px) rotate(0.05deg);-webkit-text-stroke:0.15px;">2000</div>
<div class="tx b" style="left:544.24px;top:886px;font-size:25.1px;line-height:33px;letter-spacing:0.04px;transform:translateY(0.45px) rotate(0.05deg);-webkit-text-stroke:0.15px;">3000</div>
<div class="tx b" style="left:668.59px;top:886px;font-size:25.1px;line-height:33px;letter-spacing:-0.06px;transform:translateY(0.45px) rotate(0.05deg);-webkit-text-stroke:0.15px;">4000</div>

<svg class="abs" style="left:0;top:940px" width="819" height="84" viewBox="0 0 819 84"><path d="M417.2 73.2 417.2 74.2 417.8 74.8 418.8 74.8 419.2 75.2 420.8 74.8 419.2 72.8ZM379.8 56.2 380.8 55.8 379.8 55.8ZM811.8 50.2 811.2 50.2 811.2 50.8ZM789.8 40.8 789.2 41.2 789.8 41.2ZM44.8 40.8 44.8 41.2 45.8 41.2 45.8 40.8ZM47.2 39.2 47.8 40.2 48.8 40.2 48.8 39.8ZM258.8 39.2 261.2 38.8 258.8 38.8ZM783.8 37.8 784.2 37.8 786.8 40.8 788.8 38.2 788.8 37.8ZM12.2 36.2 12.8 36.2 13.2 36.2 12.8 36.2ZM12.8 35.2 13.2 35.2 13.8 35.2 13.2 35.2ZM267.2 32.8 266.8 33.2 267.2 33.8 267.8 33.2ZM324.8 32.2 324.2 32.2 323.8 33.2 324.2 33.2ZM626.8 31.8 625.2 32.8 626.2 33.2ZM226.2 31.8 225.8 32.2 226.2 32.8 226.8 32.2ZM552.2 31.8 554.8 31.8 555.2 32.2 556.8 32.2 558.2 33.2 559.8 33.2 559.8 32.8 555.8 32.2 554.2 30.8ZM428.2 31.2 425.2 30.8 424.8 30.2 423.2 31.2 424.2 31.8 424.2 33.2 421.8 36.2 425.8 35.8 427.2 34.2 427.2 32.2 427.8 31.8 428.2 32.2ZM208.2 29.8 207.8 30.2 208.2 30.8 208.8 30.2ZM620.8 29.2 619.8 29.8 619.2 30.8 619.8 31.2 621.2 30.2ZM427.8 28.8 426.8 28.8 426.2 29.2 427.2 29.8ZM222.2 27.8 221.8 28.2 222.2 28.8 222.8 28.2ZM217.2 25.8 216.8 26.2 217.2 26.8 217.8 26.2ZM729.8 25.8 731.8 24.8 730.2 24.8ZM726.8 24.8 726.8 25.2 728.2 25.2ZM388.2 25.2 388.2 25.8 390.2 25.8 390.2 24.8 388.8 24.8ZM230.2 24.8 229.8 25.2 230.2 25.8 230.8 25.2ZM719.8 24.2 718.8 24.8 719.8 24.8ZM640.2 23.2 639.8 23.8 640.2 23.8ZM820 53.8 817.8 53.2 818.2 52.2 815.8 51.8 815.2 52.2 813.2 52.2 813.8 52.8 816.2 52.8 816.8 53.2 814.2 54.8 812.2 54.8 811.2 55.2 810.8 54.8 811.2 54.2 810.2 54.2 807.8 52.2 808.2 51.8 807.8 52.2 806.8 51.8 807.2 50.2 806.8 50.2 803.8 46.8 802.8 46.8 801.2 45.8 801.8 45.2 803.2 45.2 802.8 44.2 800.8 44.8 801.8 45.2 801.2 45.8 798.8 45.8 797.8 44.8 799.2 43.8 799.2 43.2 797.2 43.2 796.8 42.8 798.2 41.8 798.8 42.2 797.8 41.8 796.2 43.2 793.2 43.2 792.8 42.8 790.2 42.8 789.8 43.2 788.2 42.2 787.2 42.8 787.2 43.8 788.8 42.8 789.2 43.2 789.2 44.2 791.2 45.2 792.2 45.2 793.8 46.8 795.8 47.8 795.2 48.8 793.2 49.2 793.2 50.2 794.2 51.2 795.8 51.2 796.2 51.8 795.2 52.8 794.2 52.8 793.2 51.8 791.8 52.2 791.2 51.8 792.2 50.8 792.2 49.8 791.2 49.8 790.8 48.8 788.8 47.8 786.2 47.2 784.8 45.8 782.8 44.8 781.2 44.8 779.8 45.8 778.2 45.8 777.8 46.2 773.2 46.8 771.8 48.2 771.2 47.8 768.2 47.8 767.8 47.2 768.2 46.2 770.2 45.2 770.2 44.8 768.8 43.8 769.2 43.2 774.8 43.8 775.8 42.8 776.8 42.8 778.8 41.8 778.8 41.2 777.2 41.2 776.8 40.8 775.8 40.8 775.2 41.2 774.2 40.8 775.8 39.2 777.2 38.8 777.2 38.2 776.8 38.2 774.8 36.2 771.8 32.2 772.2 31.2 769.2 26.8 768.2 26.8 766.8 27.8 762.2 28.2 761.8 28.8 763.8 31.2 762.8 32.8 764.8 30.8 766.2 30.8 767.2 29.8 767.8 30.2 766.2 32.2 763.8 33.2 763.8 34.2 764.2 34.8 767.8 36.2 767.8 36.8 765.2 38.8 765.8 39.2 764.2 40.2 762.8 39.2 759.8 39.2 758.2 38.2 758.2 37.2 757.2 38.8 756.8 38.2 754.8 38.2 753.8 36.8 753.2 36.8 749.2 33.2 750.8 31.2 751.2 31.2 752.2 32.8 753.2 33.2 755.8 33.2 755.8 32.2 755.2 32.2 754.8 31.2 755.8 30.8 756.8 29.2 758.2 31.2 759.2 31.8 759.8 29.2 758.8 28.8 754.2 29.2 754.8 30.8 754.2 31.8 752.8 32.8 752.2 31.8 750.8 30.8 751.2 29.2 750.2 28.2 747.2 28.8 745.8 26.8 744.2 28.8 743.8 28.2 742.2 28.2 740.8 29.2 740.2 28.2 739.2 27.8 738.8 28.2 738.8 29.2 740.2 30.8 742.8 30.8 743.2 31.2 741.8 32.8 740.8 32.8 739.8 33.8 738.8 33.2 736.8 33.2 736.8 33.8 735.8 34.2 735.2 33.8 735.8 33.2 735.2 32.8 732.2 32.8 731.2 31.2 731.2 29.8 733.8 27.8 735.8 28.8 736.2 27.8 735.8 27.2 735.2 27.8 732.2 27.8 731.8 28.8 730.2 28.8 728.8 27.8 727.8 27.8 727.2 28.2 727.2 29.2 725.8 31.2 725.2 30.8 725.8 28.2 724.2 27.2 723.8 28.2 722.8 28.2 722.2 27.8 718.8 27.8 716.2 28.8 715.2 29.8 713.2 28.8 713.2 27.2 711.2 27.8 710.2 26.8 709.8 24.8 708.8 24.2 709.2 23.2 708.8 22.8 705.8 22.8 706.8 24.8 706.2 25.8 703.8 25.8 703.2 26.2 700.2 25.8 699.2 26.8 698.8 26.8 697.8 25.2 696.8 25.8 695.8 25.2 694.8 23.2 692.8 22.8 691.8 23.8 691.8 25.2 691.2 25.8 690.2 25.8 691.8 26.8 691.2 27.8 691.8 28.8 690.2 31.2 689.2 31.2 686.8 29.2 685.8 29.2 685.2 29.8 684.2 29.2 682.2 30.2 680.8 29.2 679.8 29.2 678.2 26.2 677.8 26.2 676.8 27.2 675.2 27.8 675.2 28.8 676.2 29.2 675.8 29.8 678.2 32.8 676.8 33.8 677.2 34.8 678.2 34.8 678.8 35.2 678.2 37.2 677.2 38.2 676.2 38.2 675.8 37.8 669.8 38.2 668.2 40.2 666.8 40.2 666.2 39.8 664.8 39.8 664.2 39.2 661.8 38.8 661.2 37.8 659.8 37.8 658.2 36.8 659.8 35.8 658.8 34.8 659.8 34.2 661.2 35.2 664.8 35.2 665.8 35.8 667.2 37.8 667.8 37.2 668.8 37.8 668.8 36.2 670.2 34.2 670.2 31.8 672.2 30.2 674.8 29.8 673.2 29.2 671.8 30.2 669.8 28.2 669.8 27.8 668.2 26.8 666.2 27.8 665.2 27.2 664.2 28.2 662.8 27.2 660.8 27.2 657.8 31.2 655.8 31.2 655.2 30.8 656.2 29.8 655.8 29.2 654.2 29.2 652.2 30.2 651.8 29.8 651.8 28.8 650.8 28.2 651.2 27.8 649.8 27.2 647.8 29.8 646.8 29.8 647.8 29.8 649.8 27.8 650.8 28.2 651.2 29.8 648.2 31.8 641.8 31.8 640.2 29.8 638.8 31.8 631.8 32.2 631.2 32.8 631.2 33.8 629.8 35.2 628.8 34.8 627.8 35.2 627.2 34.8 625.2 34.8 618.2 38.2 617.2 38.2 616.2 37.2 615.2 37.2 614.2 38.8 613.2 38.2 610.2 38.8 608.8 37.8 607.8 37.8 606.8 36.8 606.8 35.8 606.2 35.2 606.8 34.2 609.2 34.2 610.8 33.2 611.8 33.8 614.8 33.8 614.2 33.2 614.2 32.2 615.2 31.8 615.2 31.2 614.2 31.2 612.8 32.2 611.8 31.8 609.2 32.8 608.2 32.8 607.8 32.2 607.8 31.2 608.8 30.2 609.2 30.8 611.2 30.2 612.8 28.8 612.2 27.8 613.2 27.2 612.2 27.8 610.2 27.8 609.8 28.2 610.2 28.8 609.8 29.2 603.8 30.2 601.2 33.2 601.2 34.2 602.2 35.8 601.2 36.8 598.8 36.8 597.8 35.8 598.2 35.2 598.2 33.8 599.8 32.2 600.8 32.2 601.2 31.2 600.2 30.2 594.2 29.8 593.2 28.8 592.2 28.8 591.8 30.2 590.8 31.2 588.8 31.2 587.8 30.8 586.2 29.2 585.8 27.8 584.2 26.8 582.2 28.2 579.8 28.8 579.8 29.2 578.2 30.2 575.2 28.2 573.2 30.2 571.8 30.8 570.8 31.8 569.8 31.8 569.2 33.2 567.2 35.8 565.8 34.8 564.8 32.2 563.8 31.8 563.8 32.8 563.2 33.2 559.8 34.8 559.2 34.2 556.8 34.2 556.2 34.8 556.2 35.8 555.8 36.2 554.8 36.2 553.8 35.2 554.2 34.8 553.8 33.8 552.8 33.8 551.8 32.8 549.8 32.8 549.2 32.2 549.8 31.2 549.2 31.2 548.8 31.8 548.8 32.8 547.2 33.8 546.8 33.8 544.8 31.8 545.2 32.2 545.2 33.2 544.8 33.8 543.2 33.8 542.8 33.2 541.8 35.2 540.2 35.2 539.2 34.2 537.2 34.8 536.2 35.8 536.2 36.2 537.2 36.8 536.2 37.8 533.2 39.2 532.2 38.2 534.8 37.2 532.8 35.2 533.2 34.8 532.2 33.8 529.8 33.8 529.2 34.2 525.2 33.8 524.8 34.2 525.8 35.8 525.8 36.8 526.8 37.2 527.2 36.8 528.2 36.8 529.2 38.8 531.2 40.2 530.2 41.2 527.8 40.8 525.8 41.8 524.8 43.8 522.8 43.8 521.8 42.8 518.8 41.2 519.2 40.2 520.2 40.2 519.2 38.8 519.2 37.2 519.8 36.8 521.8 36.8 523.2 35.8 524.2 35.8 522.8 34.8 521.8 34.8 522.2 35.8 521.8 36.8 520.8 36.8 519.8 35.8 520.8 35.2 519.8 35.8 517.2 35.8 516.8 34.8 518.8 33.2 517.2 33.2 516.2 34.2 513.2 33.8 513.2 34.2 514.2 34.8 513.8 35.2 512.8 35.2 511.8 34.2 509.8 34.2 509.2 33.8 509.8 33.2 509.8 31.8 508.8 31.8 509.2 32.2 508.8 33.2 508.2 32.8 503.8 33.2 503.8 34.2 500.8 36.8 501.8 37.8 501.8 38.8 501.2 39.2 497.8 39.2 497.2 38.8 498.2 37.8 497.8 37.8 497.2 36.8 498.2 36.2 495.8 33.2 495.2 33.8 494.2 32.2 493.2 32.2 492.8 32.8 490.2 32.8 488.8 33.8 487.2 32.8 487.2 33.8 486.8 34.2 485.8 34.2 485.2 34.8 484.8 34.2 484.2 35.2 483.8 35.2 482.8 34.2 483.2 33.8 482.8 33.8 481.8 35.2 481.8 36.8 480.2 37.8 480.8 39.2 481.8 39.2 482.2 39.8 480.2 42.2 478.2 42.2 476.8 41.2 477.8 40.2 477.2 38.2 480.2 36.2 476.8 38.2 475.8 38.2 474.2 36.8 473.2 36.8 471.2 39.2 470.2 39.2 468.8 37.2 465.2 37.8 464.8 37.2 464.8 35.8 462.8 34.2 459.8 34.8 456.8 37.2 455.8 37.2 454.8 36.2 452.8 36.8 451.8 37.8 452.2 38.8 451.8 39.8 449.8 41.8 447.8 39.8 446.8 37.8 446.8 36.8 445.8 36.8 444.8 37.8 443.8 37.8 442.2 35.8 442.2 34.2 441.8 34.2 438.8 37.2 436.2 37.2 434.8 36.2 430.8 36.2 432.8 36.2 433.2 36.8 432.8 37.2 425.2 36.8 425.2 37.2 423.8 38.2 421.8 38.2 420.2 39.2 418.2 39.2 417.8 38.8 418.2 37.2 415.2 33.2 414.2 33.2 413.2 34.2 412.2 34.2 409.8 31.8 409.8 31.2 408.8 31.2 406.8 32.2 404.2 29.8 403.2 29.8 402.2 32.2 400.8 34.2 400.2 33.2 398.2 31.8 397.2 31.8 396.2 30.8 392.8 31.2 389.8 27.8 388.8 27.8 386.8 30.8 385.8 31.2 384.8 30.8 384.2 31.8 381.8 31.8 380.2 33.2 380.2 34.2 381.2 34.8 383.2 33.2 384.8 33.2 385.2 33.8 384.8 35.8 383.2 36.8 383.8 37.2 384.8 37.2 385.2 37.8 385.2 38.8 384.2 39.8 382.2 39.8 381.2 40.8 379.8 40.8 378.8 39.8 380.8 37.8 381.8 37.8 382.2 37.2 379.2 37.8 378.8 37.2 378.8 36.2 377.8 35.8 377.8 35.2 378.8 34.8 378.2 34.8 376.8 32.8 375.2 32.8 374.8 31.8 372.8 31.8 370.8 30.2 369.2 30.2 367.2 31.8 365.8 32.2 364.8 33.2 364.8 34.2 363.8 34.8 362.8 33.2 364.8 31.8 361.8 32.2 359.8 31.2 358.8 32.8 355.8 29.8 353.2 30.2 352.8 31.2 350.8 32.8 350.8 33.8 350.2 34.2 349.2 34.2 348.2 33.2 347.2 33.2 346.8 33.8 344.8 32.2 343.8 32.2 344.8 32.8 344.2 33.8 342.8 32.8 341.2 32.8 340.8 33.2 339.8 32.8 338.8 33.2 336.8 31.8 337.2 31.2 338.2 31.2 337.2 30.8 336.2 32.2 335.8 31.2 333.8 31.2 333.8 31.8 334.2 32.2 335.2 32.2 335.8 33.2 334.2 34.2 331.8 34.8 330.2 33.8 329.8 34.2 328.2 32.8 328.2 31.8 327.8 31.8 327.8 32.8 326.8 33.2 326.2 34.2 327.2 35.8 326.2 36.8 325.2 36.8 324.2 35.2 324.8 34.8 324.2 34.2 322.2 38.2 320.2 38.2 318.2 39.2 316.2 38.2 314.2 39.2 310.8 37.2 309.8 37.2 307.8 39.2 306.2 39.2 305.8 38.8 305.2 39.2 303.8 39.2 303.2 38.8 303.2 37.8 301.2 36.2 296.8 35.8 295.8 34.2 295.8 32.2 294.2 32.8 294.2 34.2 293.2 35.8 294.2 35.8 295.2 37.2 297.2 37.8 298.2 38.8 297.8 39.2 295.8 39.2 295.2 39.8 292.8 40.2 291.8 37.8 291.8 36.8 292.2 36.2 291.8 36.8 290.8 36.8 288.8 35.8 286.8 37.8 285.8 37.8 284.8 36.8 284.2 35.2 283.2 34.2 282.2 34.2 280.2 36.2 279.8 37.2 280.8 37.8 279.2 38.8 279.2 39.8 278.8 40.2 277.8 39.8 277.8 38.8 276.8 38.8 276.2 39.2 274.2 38.8 273.8 39.8 272.8 39.8 271.8 37.2 270.8 37.8 269.2 39.8 267.8 38.2 266.8 38.2 266.2 38.8 266.2 40.2 265.2 41.2 264.2 40.8 263.8 39.8 262.8 39.8 262.8 41.8 261.8 42.8 260.8 42.8 259.8 41.2 257.8 40.8 257.8 41.8 256.8 42.8 255.8 42.8 255.2 43.2 253.8 42.8 251.8 39.8 250.8 39.8 248.8 40.8 246.8 40.8 246.2 41.2 244.2 40.2 242.8 40.2 242.2 40.8 241.2 40.8 237.2 43.8 235.2 42.8 235.2 42.2 236.2 41.8 235.2 41.8 234.8 42.2 234.2 41.8 230.2 42.2 229.2 41.2 229.8 40.8 229.8 39.8 229.2 39.8 228.8 41.8 227.8 42.8 226.8 42.8 225.8 41.8 223.2 41.8 221.8 40.2 222.2 39.8 221.2 38.8 219.8 39.8 217.8 39.2 217.2 40.2 218.2 42.2 217.8 42.8 216.8 42.8 212.8 39.2 212.8 38.2 209.8 38.2 206.2 42.8 205.2 42.8 204.8 41.8 202.2 39.8 202.2 39.2 201.2 39.2 199.8 41.8 198.8 41.8 198.2 42.2 195.8 41.8 193.8 43.2 190.8 46.8 189.2 47.2 188.8 48.2 187.8 48.2 186.2 49.2 184.2 49.2 183.2 50.8 181.2 51.2 179.8 53.2 177.2 53.2 176.2 53.8 175.8 54.8 176.2 54.2 177.2 55.2 176.2 56.2 175.2 56.2 174.8 57.2 173.8 56.8 174.2 55.8 172.8 53.8 171.8 54.8 171.8 55.8 167.2 59.8 168.2 60.2 167.8 60.8 165.2 60.2 164.2 58.8 163.8 58.8 161.8 60.8 160.2 59.2 159.2 59.2 158.8 58.8 158.2 59.2 156.2 59.2 155.8 58.8 155.8 57.2 154.2 56.2 153.2 56.2 151.2 57.8 150.2 57.2 148.8 58.2 145.8 58.2 145.2 57.8 147.8 56.2 148.8 56.2 147.2 54.2 149.2 53.2 147.2 51.8 142.2 51.8 141.2 52.2 141.8 52.2 142.8 53.8 141.2 55.2 138.8 55.2 137.8 53.8 139.2 52.2 138.2 52.2 136.8 50.8 135.2 50.8 132.2 53.2 131.2 53.2 129.8 54.8 126.8 56.2 125.8 55.2 124.2 55.2 121.2 51.2 118.2 51.2 116.2 52.8 114.2 50.8 114.8 50.2 114.2 50.8 113.8 50.2 114.2 49.2 113.8 48.8 111.8 48.8 110.8 50.2 109.2 51.2 108.8 50.8 107.8 50.8 106.8 49.2 102.2 49.8 100.8 47.8 95.2 47.8 94.2 46.8 92.8 46.8 92.2 47.2 91.8 46.8 89.8 46.8 89.2 47.2 87.2 46.8 86.2 48.2 85.2 48.2 83.8 45.8 82.2 46.2 82.2 47.2 80.2 48.2 79.8 49.2 80.8 48.2 81.2 48.8 81.2 50.2 80.8 50.8 79.8 50.8 79.2 50.2 78.8 50.8 76.8 48.8 75.8 48.8 72.8 46.2 72.2 44.8 73.2 43.2 74.2 43.2 71.8 42.2 70.8 42.2 69.8 43.8 69.8 46.2 69.2 46.8 67.8 46.8 67.2 46.2 67.2 45.2 65.8 44.2 65.8 42.8 64.8 42.8 64.8 43.8 63.8 45.8 62.2 45.8 61.2 44.8 60.2 44.8 58.8 46.2 55.8 46.8 53.2 44.2 52.8 44.8 50.2 44.8 48.8 45.8 44.2 45.8 43.8 45.2 42.8 45.8 42.2 45.2 40.8 45.2 40.2 45.8 39.2 45.8 37.2 47.8 36.8 47.8 33.8 45.2 33.8 44.2 33.2 43.8 32.2 43.8 29.8 41.2 24.8 40.8 22.8 38.2 20.8 39.8 19.8 39.8 19.2 40.2 17.8 40.2 15.8 38.8 14.8 38.8 12.8 40.2 11.2 40.2 9.8 39.2 9.2 39.8 6.8 39.2 2.8 36.8 1.2 37.8 -1 37.8 -1 44.8 0.8 45.2 -1 45.8 -1 47.2 1.2 48.2 -1 49.8 -1 55.2 0.8 55.8 2.8 55.2 2.2 54.2 1.2 54.2 0.8 53.8 1.8 52.2 2.8 52.8 4.8 52.8 5.2 53.8 5.8 53.8 9.2 51.8 8.8 51.2 7.8 51.2 6.8 50.2 6.8 49.2 7.2 48.8 9.2 48.8 9.8 49.2 11.8 49.2 12.2 49.8 13.2 49.8 13.8 49.2 14.8 49.2 15.2 49.8 18.2 49.8 19.2 49.2 17.8 47.2 18.2 44.8 19.2 43.8 21.8 45.8 21.8 46.2 19.8 47.8 20.2 48.2 21.2 48.2 22.2 49.2 21.2 49.8 19.8 51.8 19.2 51.8 18.8 53.8 17.2 55.2 14.8 55.2 15.8 55.8 15.8 56.8 16.8 57.8 16.8 58.8 13.8 61.2 9.2 62.2 9.2 63.2 11.2 63.2 11.8 62.8 14.2 63.2 14.8 63.8 14.2 64.2 14.8 64.8 14.2 65.8 12.8 65.8 12.2 65.2 11.2 65.8 9.2 65.8 6.2 67.8 4.8 67.8 2.8 65.8 2.8 65.2 1.8 64.8 2.2 63.8 3.2 63.8 3.8 63.2 0.8 63.2 -1 62.8 -1 73.8 1.2 74.2 -1 74.8 -1 85 0.8 85 1.2 82.8 1.8 82.8 2.2 85 16.8 85 16.8 82.8 17.2 82.2 17.8 82.2 18.8 85 48.8 85 49.2 83.2 48.2 82.8 49.8 81.2 50.8 85 75.2 85 75.8 83.2 79.2 83.2 79.8 85 111.2 85 111.8 83.2 112.8 85 199.2 85 200.2 82.8 201.8 85 323.8 85 324.2 83.2 324.8 85 328.2 85 329.8 82.8 330.8 85 333.8 85 335.2 82.8 336.8 85 352.2 85 352.8 83.2 353.8 85 368.8 85 369.2 82.8 370.2 82.8 370.8 85 396.2 85 396.8 83.2 397.8 83.2 398.2 85 406.8 85 407.2 83.2 409.2 83.2 409.8 82.8 411.2 85 412.2 85 412.8 83.2 413.8 85 436.8 85 438.8 81.8 441.2 81.8 443.2 82.8 446.2 82.2 446.8 82.8 446.8 85 449.8 85 450.8 83.2 451.2 82.2 454.2 85 455.2 82.8 456.2 82.8 456.8 82.2 458.2 82.2 459.8 85 465.8 85 465.8 81.8 468.2 80.2 469.2 80.8 467.8 82.8 468.2 85 564.2 85 564.8 83.2 565.8 85 614.2 85 614.8 83.2 615.8 85 670.8 85 671.8 82.8 673.2 85 696.8 85 697.8 82.8 698.2 82.8 698.8 85 806.8 85 807.2 83.2 807.8 85 810.2 85 810.8 83.2 811.8 85 820 85 820 80.8 814.2 80.2 813.2 79.2 813.8 77.8 814.8 76.8 816.2 76.8 820 75.8 820 71.2 817.8 70.8 817.8 70.2 820 69.8 820 65.2 818.2 64.8 820 63.8ZM741.2 82.8 741.8 82.2 742.2 83.2 741.8 85ZM771.8 82.2 772.2 81.8 773.2 82.2 772.8 82.8ZM420.2 82.2 420.8 81.8 421.2 82.2 420.8 82.8ZM345.2 82.2 345.8 81.8 346.8 81.8 347.2 82.2 346.8 82.8 345.8 82.8ZM302.2 82.2 302.8 81.8 303.8 82.2 303.2 82.8ZM801.8 81.8 802.2 81.2 803.2 81.8 802.8 82.2ZM666.2 82.8 668.2 80.8 669.8 81.8 668.8 83.2 666.8 83.2ZM435.2 81.2 435.8 80.8 437.2 80.8 437.8 81.8 437.2 82.2 435.8 82.2ZM430.2 82.2 431.2 80.8 432.2 80.8 432.8 81.2 432.8 81.8 431.2 82.8ZM423.2 81.2 423.8 80.8 424.2 81.2 423.8 81.8ZM417.2 81.2 417.8 80.8 418.8 80.8 419.2 81.8 418.2 82.2ZM121.2 81.2 121.8 80.8 122.8 81.2 122.2 81.8ZM81.2 81.2 81.8 80.8 82.8 80.8 83.2 81.2 82.8 81.8 81.8 81.8ZM770.8 80.8 771.2 80.2 772.8 80.2 773.2 80.8 772.8 81.2 771.2 81.2ZM404.2 81.8 406.2 79.8 407.8 81.2 408.2 82.8 407.8 83.2 407.2 82.8 406.2 83.2ZM85.2 80.2 85.8 79.8 86.8 80.2 86.2 80.8ZM781.2 79.8 781.8 79.2 782.8 79.2 783.8 80.2 783.8 81.2 783.2 81.8 782.2 81.8 781.2 80.8ZM576.2 79.8 577.2 79.2 577.8 80.2 576.8 80.8ZM468.8 80.2 469.8 79.2 471.8 80.2 471.2 80.8 469.2 80.8ZM424.2 80.2 424.8 79.2 425.8 79.2 426.2 79.8 425.2 80.8ZM660.2 79.8 661.2 78.8 662.2 80.2 661.2 80.8ZM379.8 79.2 380.2 78.8 382.8 79.8 382.2 80.2 380.2 80.2ZM338.8 79.2 339.2 78.8 340.2 78.8 340.8 79.8 340.2 80.2 339.2 80.2ZM179.2 80.2 179.2 79.2 179.8 78.8 180.8 79.8 179.8 80.8ZM163.2 79.8 163.8 78.8 165.2 78.8 165.8 79.2 164.2 80.2ZM86.2 79.8 87.2 78.8 89.2 79.8 88.8 80.2 86.8 80.2ZM785.2 78.8 786.2 77.8 788.8 77.8 789.8 78.2 790.2 79.2 788.8 80.2 787.8 80.2ZM779.2 78.2 780.2 77.8 780.8 78.8 779.8 79.2ZM696.8 78.8 697.8 77.8 698.2 78.2 697.8 79.2ZM395.8 78.2 396.2 77.8 397.2 77.8 397.8 78.2 397.2 78.8 396.2 78.8ZM208.2 78.2 208.8 77.8 209.2 78.2 208.8 78.8ZM112.2 78.8 113.2 77.8 113.8 78.2 113.2 79.2ZM96.8 78.8 97.8 77.8 98.2 78.2 97.8 79.2ZM761.2 77.8 761.2 78.2 759.8 79.2 758.8 79.2 758.2 78.8 759.2 77.8 760.2 77.8 760.8 77.2ZM713.2 77.8 713.8 77.2 714.2 77.8 713.8 78.2ZM705.2 77.8 705.8 77.2 707.8 77.2 708.8 78.8 707.8 79.8 706.2 80.2 705.2 79.2ZM434.2 77.2 434.8 76.8 436.8 76.8 437.2 77.2 437.2 78.2 436.2 79.2ZM400.8 77.2 401.2 76.8 401.8 77.2 401.2 77.8ZM370.8 77.2 371.2 76.8 371.8 77.2 371.2 77.8ZM160.8 77.2 161.2 76.8 162.2 77.2 161.8 77.8ZM134.8 77.2 135.2 76.8 135.8 77.2 135.2 77.8ZM110.8 77.2 111.2 76.8 111.8 77.2 111.2 77.8ZM80.8 77.2 81.2 76.8 82.2 77.2 81.8 77.8ZM48.2 77.8 49.2 76.8 50.8 76.8 51.2 77.2 50.2 78.2 48.8 78.2ZM607.8 76.8 608.8 76.2 609.2 77.2 608.2 77.8ZM456.2 77.2 457.2 76.2 458.2 76.8 457.8 77.8 456.8 77.8ZM426.8 78.8 426.8 78.2 428.2 77.2 428.8 76.2 429.8 76.8 429.2 77.2 429.8 77.8 430.8 77.8 431.2 77.2 432.2 77.2 432.8 77.8 429.8 79.8 427.8 79.8ZM389.8 76.8 390.2 76.2 391.2 76.2 391.8 76.8 391.2 77.2 390.2 77.2ZM377.2 76.8 377.8 76.2 378.8 76.2 379.2 76.8 378.8 77.2 377.8 77.2ZM371.2 76.8 371.8 76.2 372.2 76.8 371.8 77.2ZM163.8 77.8 165.8 76.2 167.2 77.2 167.2 78.2 166.8 78.8 164.8 78.8ZM60.8 79.2 59.8 80.2 58.8 79.8 56.8 80.2 56.8 81.8 56.2 82.2 54.2 81.2 53.2 81.8 52.2 81.8 51.8 81.2 51.8 78.8 52.8 77.8 55.2 77.2 56.8 76.2ZM748.8 76.2 749.2 75.8 749.8 76.2 749.2 76.8ZM465.2 76.8 465.8 75.8 466.8 76.2 465.8 77.2ZM379.2 76.8 380.2 75.8 381.8 77.2 380.2 78.2ZM297.2 76.2 298.2 75.8 298.8 76.8 297.8 77.2ZM113.2 76.2 113.8 75.8 114.8 76.2 114.2 76.8ZM29.2 76.8 30.8 75.8 32.2 75.8 33.2 78.2 31.2 79.2 29.8 78.2ZM14.2 76.2 15.2 75.8 15.8 76.8 14.8 77.2ZM719.2 76.2 719.8 75.8 722.2 75.2 723.2 75.8 723.8 76.8 722.2 77.8 720.8 77.8 719.8 77.2ZM616.8 76.2 617.8 75.2 618.2 75.8 617.8 76.8ZM509.8 75.8 510.2 75.2 510.8 75.8 510.2 76.2ZM441.2 75.8 441.8 75.2 443.2 76.2 442.8 76.8 441.8 76.8ZM186.8 75.8 187.2 75.2 187.8 75.8 187.2 76.2ZM146.2 75.8 147.2 75.2 147.8 76.2 146.8 76.8ZM749.2 75.2 750.2 74.8 750.8 75.8 749.8 76.2ZM385.2 75.2 385.8 74.8 386.2 75.2 385.8 75.8ZM187.2 75.2 187.8 74.8 188.2 75.2 187.8 75.8ZM800.2 74.8 800.8 74.2 801.8 74.8 801.2 75.2ZM767.8 74.8 768.2 74.2 769.8 74.2 770.2 74.8 771.2 74.8 771.8 74.2 772.8 75.2 772.2 75.8 768.8 76.2ZM438.2 75.2 439.2 74.2 440.2 75.8 439.8 76.2 438.8 76.2ZM394.2 76.2 395.2 75.8 395.2 74.8 395.8 74.2 396.2 74.2 396.8 74.8 396.8 75.8 397.8 76.2 396.8 77.2 395.2 77.2ZM296.8 74.8 297.2 74.2 297.8 74.8 297.2 75.2ZM24.2 75.8 25.8 74.2 27.8 75.8 26.8 76.8 25.2 76.8ZM781.2 74.2 781.8 73.8 782.2 74.2 781.8 74.8ZM455.2 80.8 452.8 81.8 451.2 81.2 448.8 82.8 448.2 82.2 448.2 81.2 448.8 80.8 449.8 80.8 451.2 78.8 448.2 78.8 446.2 77.2 443.2 77.2 442.8 76.8 443.8 75.2 445.8 74.2 452.2 74.2 452.8 73.8 454.8 73.8 455.2 74.2 454.2 75.2 454.8 75.8 454.2 78.2 455.2 78.8ZM142.2 74.2 142.8 73.8 143.8 73.8 145.8 76.8 145.2 77.2 142.8 76.8 141.8 75.8ZM67.8 74.8 68.8 73.8 70.2 73.8 70.8 74.2 69.8 75.2 70.8 75.8 70.2 76.2 69.2 76.2ZM47.8 74.2 48.2 73.8 48.8 74.2 48.2 74.8ZM807.2 73.8 808.2 73.2 809.2 74.2 808.2 74.8ZM664.2 73.8 664.8 73.2 665.8 73.8 665.2 74.2ZM599.2 74.2 600.2 73.2 601.2 73.8 600.2 74.8ZM399.2 73.8 399.8 73.2 400.2 73.8 399.8 74.2ZM335.2 73.2 335.8 74.2 334.8 75.2 334.2 74.2ZM135.8 74.2 136.8 73.2 137.8 73.2 138.8 74.2 137.8 75.2ZM753.8 73.2 754.2 72.8 757.2 72.8 757.8 73.8 757.2 74.2 754.8 74.2ZM602.2 73.2 602.8 72.8 603.2 73.2 602.8 73.8ZM388.2 73.2 388.8 72.8 389.8 73.2 389.2 73.8ZM375.8 73.2 376.2 72.8 377.2 72.8 378.2 73.8 377.8 74.2 376.2 74.2ZM101.2 73.2 101.8 72.8 102.2 73.2 101.8 73.8ZM803.2 73.2 804.2 72.2 805.2 72.2 806.2 73.8 805.2 74.8 804.2 74.8ZM428.8 72.8 429.2 72.2 430.2 72.2 430.8 72.8 430.2 73.2 429.2 73.2ZM107.2 72.8 107.8 72.2 109.8 72.8 110.8 74.2 109.8 75.2 108.8 73.8 107.8 73.8ZM572.2 72.2 572.8 71.8 574.2 71.8 575.2 72.8 574.8 73.2 573.2 73.2ZM448.2 72.8 449.2 71.8 449.8 72.2 449.2 73.2ZM355.8 72.2 356.2 71.8 357.2 72.2 356.8 72.8ZM175.2 72.2 175.8 71.8 176.2 72.2 175.8 72.8ZM585.2 72.2 586.2 71.2 587.2 71.2 587.8 71.8 587.2 72.8 585.8 72.8ZM444.2 71.8 444.8 71.2 445.8 71.2 447.8 72.2 445.8 73.2ZM352.8 72.2 353.8 71.2 355.2 72.2 354.8 72.8 353.2 72.8ZM337.8 72.8 338.8 71.2 339.8 71.2 341.8 72.2 343.2 73.8 344.8 73.8 345.8 72.8 346.8 73.2 349.8 72.8 350.2 73.2 348.2 75.2 346.8 77.8 345.8 78.2 345.2 77.8 343.8 77.8 342.8 76.8 340.8 76.8 340.2 77.2 339.8 76.8 339.8 75.2 340.8 74.2 340.8 73.2 338.2 73.8ZM326.2 71.8 326.8 71.2 327.8 71.8 327.2 72.2ZM175.8 71.8 176.2 71.2 177.2 71.8 176.8 72.2ZM164.2 71.8 164.8 71.2 165.2 72.2 164.8 72.8ZM50.2 71.2 51.2 72.8 50.2 74.2 49.2 74.2 48.8 73.2ZM391.2 71.2 391.8 70.8 392.8 71.2 392.2 71.8ZM364.2 70.8 364.8 71.2 364.8 72.2 362.8 73.8 361.8 72.8 363.2 71.8 363.8 70.8ZM343.2 71.2 344.2 70.8 344.8 71.8 343.8 72.2ZM171.8 72.2 172.8 70.8 173.8 70.8 174.8 71.8 173.2 73.2ZM5.8 71.2 6.2 70.8 6.8 71.2 6.2 71.8ZM373.2 71.2 372.2 72.8 372.2 73.8 369.8 75.8 368.8 75.8 368.2 75.2 366.2 75.8 364.8 74.8 364.8 73.2 368.2 71.2 370.2 71.2 371.8 70.2ZM84.8 71.8 84.8 70.8 85.2 70.2 86.2 70.2 87.2 71.2 86.2 72.8ZM686.8 70.8 687.8 69.8 688.8 70.8 688.2 71.2 687.2 71.2ZM455.2 70.2 455.8 69.8 456.8 70.8 455.8 71.2ZM430.2 69.8 431.2 71.2 430.2 72.2 429.2 71.2ZM328.2 70.2 328.8 69.8 329.2 70.2 328.8 70.8ZM282.2 71.2 283.2 70.2 284.2 70.2 284.8 69.8 285.8 69.8 286.8 70.8 286.8 71.2 285.2 72.2 283.2 72.2ZM436.2 69.8 436.8 69.2 438.8 70.2 439.2 69.8 440.2 69.8 440.8 70.8 440.2 71.2 436.8 71.2 436.2 70.8ZM374.2 69.8 374.8 69.2 375.8 69.8 375.2 70.2ZM346.8 69.8 347.2 69.2 351.8 69.8 352.8 71.2 352.2 71.8 350.2 71.8 349.8 71.2 347.2 70.8ZM774.2 69.2 774.8 68.8 775.8 69.2 775.2 69.8ZM698.8 69.8 699.8 68.8 701.8 68.8 702.8 69.8 701.8 70.8 702.2 71.2 705.2 71.2 705.8 71.8 707.2 71.8 708.8 72.8 711.2 72.8 711.8 73.8 710.2 75.2 708.8 75.2 708.2 75.8 707.2 75.2 704.8 75.2 703.2 74.2 701.8 74.8 701.8 75.2 700.8 75.8 699.8 74.8 698.8 74.8 698.2 74.2 699.8 71.8ZM449.2 69.8 450.2 68.8 451.2 68.8 451.8 69.2 451.8 70.2 451.2 70.8 450.2 70.8ZM431.8 69.8 432.8 68.8 433.8 69.2 433.2 70.2 432.2 70.2ZM387.2 69.2 387.8 68.8 388.8 69.2 390.2 71.2 389.2 71.8 387.2 69.8ZM357.2 70.2 358.2 68.8 358.8 69.2 361.2 69.2 361.8 68.8 362.8 68.8 363.8 69.8 360.8 72.2ZM353.2 69.2 353.8 68.8 355.2 68.8 355.8 69.2 355.8 70.2 355.2 70.8 354.2 70.8ZM351.8 69.2 352.2 68.8 352.8 69.2 352.2 69.8ZM153.2 69.8 154.2 68.8 154.8 69.2 154.2 70.2ZM47.8 69.2 48.2 68.8 48.8 69.2 48.2 69.8ZM715.8 68.8 716.8 68.2 717.2 69.2 716.8 69.8ZM533.8 68.8 534.2 68.2 534.8 68.8 534.2 69.2ZM410.8 69.8 412.2 68.2 413.2 69.2 412.8 70.2 411.2 70.2ZM331.8 69.2 332.2 68.2 333.2 68.2 333.8 68.8 332.2 69.8ZM329.8 68.8 330.2 68.2 331.2 68.8 330.8 69.2ZM179.8 69.2 180.8 68.2 181.2 68.8 180.8 69.8ZM162.2 68.8 162.8 68.2 164.2 68.2 164.8 68.8 163.2 69.8ZM130.2 68.8 130.8 68.2 131.8 68.8 131.2 69.2ZM113.8 68.8 114.8 68.2 115.2 69.2 114.8 69.8ZM52.2 69.2 53.2 68.2 54.8 69.2 54.2 69.8 52.8 69.8ZM677.2 68.2 677.8 67.8 678.8 68.2 678.2 68.8ZM128.2 68.2 128.8 67.8 130.2 67.8 130.8 68.2 130.2 68.8 128.8 68.8ZM12.2 68.2 12.8 67.8 13.8 68.2 13.2 68.8ZM7.8 68.8 8.8 67.8 9.2 68.2 8.8 69.2ZM-1 68.2 0.8 67.8 1.8 68.2 1.2 68.8ZM349.2 67.8 349.8 67.2 350.2 67.8 349.8 68.2ZM109.2 67.8 109.8 67.2 111.8 68.8 111.2 69.2 110.2 69.2ZM809.2 67.8 810.2 66.8 810.8 67.2 810.2 68.2ZM690.8 67.2 691.2 66.8 692.2 67.2 691.8 67.8ZM424.2 67.8 425.8 66.8 427.8 66.8 428.2 67.2 426.2 68.2 424.8 68.2ZM339.2 67.8 341.2 66.8 342.2 67.2 341.8 68.2 339.8 68.2ZM172.2 67.2 171.8 69.8 169.8 70.8 167.2 70.8 165.2 69.2 167.2 67.8 169.2 67.8 170.8 66.8 171.8 66.8ZM13.2 67.2 13.8 66.8 14.8 67.2 14.2 67.8ZM648.2 67.2 649.2 66.2 650.8 67.2 649.8 68.2ZM324.2 66.8 324.8 66.2 325.2 66.8 326.2 66.8 327.2 67.8 326.8 68.2 324.8 68.2 324.2 67.8ZM44.2 66.8 44.8 66.2 45.8 66.8 45.2 67.2ZM364.8 66.8 365.8 65.8 367.2 65.8 367.8 66.2 367.2 67.2 365.2 67.2ZM267.8 66.2 268.2 65.8 268.8 66.2 268.2 66.8ZM121.8 66.8 122.2 65.8 124.8 65.8 125.2 66.2 124.2 67.2 122.2 67.2ZM43.8 66.2 44.2 65.8 44.8 66.2 44.2 66.8ZM809.8 65.8 810.2 65.2 812.2 65.2 812.8 65.8 812.2 66.2 810.2 66.2ZM537.8 65.8 538.2 65.2 538.8 65.8 538.2 66.2ZM513.8 65.8 514.2 65.2 515.2 65.8 515.8 66.8 515.2 67.2 514.2 67.2 513.8 66.8ZM511.8 65.8 512.2 65.2 512.8 65.8 512.2 66.2ZM474.8 66.2 475.8 65.2 476.8 65.2 477.2 65.8 477.2 66.8 476.8 67.2 475.8 67.2ZM351.8 66.2 352.8 65.2 353.8 65.2 355.2 66.8 354.8 67.2 353.2 67.2 352.8 66.8 352.2 67.2ZM113.2 65.8 113.8 65.2 114.2 65.8 113.8 66.2ZM800.8 65.2 801.2 64.8 802.8 64.8 803.2 65.8 802.8 66.2 801.2 66.2ZM713.8 65.8 714.8 64.8 715.8 65.2 715.2 66.2 714.2 66.2ZM663.2 65.8 664.2 64.8 665.2 65.2 664.8 66.2 663.8 66.2ZM386.8 65.2 387.2 64.8 388.2 65.2 387.8 65.8ZM369.8 65.2 370.2 64.8 370.8 65.2 370.2 65.8ZM330.2 65.2 330.8 64.8 332.2 64.8 332.8 65.2 331.8 66.2ZM157.2 65.2 157.8 64.8 158.8 64.8 159.8 66.2 158.8 67.2ZM72.2 65.2 72.8 64.8 73.2 65.2 72.8 65.8ZM41.8 64.8 43.2 64.8 44.2 65.8 43.2 66.8 43.2 68.8 42.8 69.2 42.2 69.2 40.2 66.8ZM734.8 64.8 735.2 64.2 736.2 64.2 737.8 65.8 735.8 66.8 734.8 65.8ZM697.8 64.8 695.2 67.2 694.2 67.2 693.8 66.8 693.8 65.8 695.8 64.2 697.2 64.2ZM595.2 65.8 596.8 64.2 597.8 64.2 598.8 65.2 597.8 66.2 595.8 66.2ZM548.8 64.8 549.2 64.2 549.8 64.8 549.2 65.2ZM497.8 64.8 498.8 64.2 499.2 65.2 498.2 65.8ZM453.2 65.2 453.2 66.8 452.2 67.8 450.2 67.8 449.2 66.8 449.2 67.2 447.8 68.2 446.8 67.8 447.2 66.2 447.8 65.8 448.8 65.8 450.2 64.2 452.2 64.2ZM424.2 64.8 424.8 64.2 426.8 64.2 427.2 64.8 427.2 65.8 426.2 66.8ZM421.8 64.8 422.8 64.2 424.8 65.8 424.2 66.2 423.2 66.2ZM401.2 73.8 401.8 73.2 404.8 73.8 405.8 72.8 405.2 72.2 405.2 71.2 405.8 70.8 405.2 70.8 404.8 69.8 405.2 69.2 406.2 69.8 407.2 68.8 408.8 70.2 410.8 70.8 411.2 71.2 411.2 72.2 412.8 72.2 414.2 73.2 415.2 72.8 414.8 69.8 410.8 66.8 412.8 64.2 414.2 66.2 415.8 66.2 416.8 67.2 415.8 69.2 417.8 70.8 419.2 70.8 420.8 69.8 421.8 69.8 422.8 68.8 425.2 68.2 426.8 69.8 428.2 69.8 428.8 70.2 428.2 71.2 429.2 71.8 427.8 73.8 427.2 76.2 425.8 77.8 424.2 77.8 423.2 78.8 422.2 78.8 421.8 79.8 419.8 79.8 418.2 78.8 420.2 77.2 420.8 77.8 422.2 77.8 422.2 76.8 420.2 76.8 418.2 78.8 414.8 78.8 412.2 77.8 412.8 78.8 410.2 79.8 409.2 79.8 408.8 79.2 409.8 77.8 409.2 77.2 406.8 76.8 404.8 77.8 404.2 78.8 403.8 78.2 403.8 77.2ZM335.2 66.2 336.8 64.2 338.8 64.2 339.2 64.8 336.8 66.8 335.8 66.8ZM23.2 64.8 23.8 64.2 24.2 64.8 23.8 65.2ZM741.2 64.8 742.8 63.8 743.8 63.8 744.8 64.2 745.8 65.8 745.2 66.2 743.2 66.2 742.8 65.8 741.8 65.8ZM658.2 64.8 659.2 63.8 660.2 63.8 660.8 64.2 660.2 65.2 658.8 65.2ZM605.8 64.2 606.2 63.8 606.8 64.2 606.2 64.8ZM549.2 64.2 549.8 63.8 550.2 64.2 549.8 64.8ZM435.2 64.8 437.2 63.8 437.8 64.2 439.2 64.2 442.2 66.8 442.2 68.2 441.2 69.2 439.8 69.2 438.8 68.2 436.2 68.8 435.2 66.8ZM322.8 64.2 323.2 63.8 323.8 64.2 323.2 64.8ZM803.2 63.8 803.8 63.2 804.2 63.8 803.8 64.2ZM690.2 63.8 690.8 63.2 691.8 63.2 692.8 63.8 693.2 64.8 692.8 65.2 691.2 65.2ZM654.2 63.8 654.8 63.2 656.2 63.2 657.8 66.2 657.2 66.8 655.8 66.8 655.2 66.2 655.2 65.2 654.2 64.8ZM640.2 64.2 641.2 63.2 642.2 63.8 642.8 64.8 641.8 65.2ZM433.8 63.8 434.2 63.2 434.8 64.2 434.2 64.8ZM430.2 63.2 431.8 63.2 432.8 64.2 432.2 65.2 433.8 66.2 433.2 66.8 433.8 67.8 432.8 68.8 431.2 67.8 432.2 66.8 431.2 66.8 430.8 67.2 428.8 65.8ZM426.8 64.2 427.8 63.2 428.2 63.8 427.8 64.8ZM15.2 63.8 16.2 63.2 17.8 64.2 17.2 64.8 15.8 64.8ZM668.2 63.8 668.8 62.8 669.8 63.2 668.8 64.2ZM343.2 63.8 343.8 62.8 346.8 62.8 347.2 63.2 345.2 64.2 343.8 64.2ZM327.8 63.2 328.2 62.8 329.2 62.8 329.8 63.8 328.8 64.2ZM190.2 63.2 190.8 62.8 191.8 63.2 191.2 63.8ZM730.8 63.2 731.8 62.2 733.2 62.2 734.2 62.8 734.8 63.8 734.2 64.2 732.2 64.2ZM421.8 62.8 422.2 62.2 423.2 62.8 422.8 63.2ZM55.2 62.8 55.8 62.2 57.2 62.2 57.8 62.8 57.2 63.2 55.8 63.2ZM49.8 62.8 50.2 62.2 50.8 62.8 50.2 63.2ZM18.8 62.8 19.2 62.2 20.2 62.8 19.8 63.2ZM429.2 62.2 429.8 61.8 430.8 62.2 430.2 62.8ZM340.2 61.8 341.2 62.8 341.2 63.8 340.2 64.8 339.8 64.2 339.8 62.2ZM16.8 62.2 17.2 61.8 18.2 62.2 17.8 62.8ZM326.2 61.8 326.2 62.2 324.8 63.2 322.2 63.2 321.8 62.8 322.2 61.8 324.2 61.8 324.8 61.2 325.8 61.2ZM200.2 62.2 200.8 61.2 202.2 61.2 202.8 61.8 201.8 62.8 200.8 62.8ZM177.2 62.2 178.8 61.2 179.2 61.8 178.8 62.8 177.8 62.8ZM133.2 62.8 133.2 61.8 133.8 61.2 134.8 61.2 135.2 61.8 134.2 63.2ZM667.2 61.2 667.8 60.8 668.2 61.2 667.8 61.8ZM503.8 61.2 504.2 60.8 505.2 60.8 505.8 61.2 505.2 61.8 504.2 61.8ZM427.2 61.2 427.8 60.8 428.2 61.8 427.8 62.2ZM370.8 64.2 374.8 60.8 376.2 60.8 376.8 61.2 380.8 61.2 382.8 62.2 383.2 63.2 384.2 63.8 383.8 66.2 385.8 68.2 385.8 68.8 383.8 70.2 382.2 70.2 381.8 69.8 379.8 70.2 379.2 69.2 377.2 67.8 375.8 67.8 372.2 65.8 371.2 65.8 370.8 65.2ZM332.2 62.2 333.2 60.8 334.8 60.8 335.2 61.2 333.8 62.8 332.8 62.8ZM308.8 61.2 309.2 60.8 310.2 61.2 309.8 61.8ZM662.2 63.2 662.2 62.2 663.8 60.2 665.8 60.2 666.2 60.8 666.8 62.8 665.2 64.2 663.2 64.2ZM548.8 60.8 549.2 60.2 550.8 61.2 549.8 62.2ZM460.2 61.2 461.2 60.2 462.8 61.2 461.8 62.2ZM344.2 60.8 344.8 60.2 345.2 60.8 344.8 61.2ZM95.8 61.2 96.8 60.2 97.8 60.8 98.2 61.8 97.2 62.8ZM24.8 60.8 25.2 60.2 26.2 60.8 25.8 61.2ZM761.2 59.8 762.2 59.8 763.2 60.8 762.8 61.8 763.2 62.2 762.2 63.2 761.2 62.2 761.8 61.8 760.8 61.2 760.8 60.2ZM659.8 60.2 660.2 59.8 661.2 60.2 660.8 60.8ZM498.8 60.2 499.2 59.8 499.8 60.2 499.2 60.8ZM456.8 60.8 457.8 59.8 458.8 61.2 458.2 61.8 457.2 61.8ZM383.8 61.2 386.2 59.8 386.8 60.2 388.2 60.2 388.8 59.8 390.8 61.2 390.8 62.2 389.2 63.2 387.8 61.8 385.2 61.8 384.8 62.2ZM780.8 59.8 781.2 59.2 781.8 59.8 781.2 60.2ZM754.8 60.8 754.8 60.2 756.2 59.2 757.2 59.2 757.8 59.8 755.8 61.2ZM733.8 60.2 734.2 59.2 735.8 59.2 736.2 59.8 734.8 60.8ZM454.2 59.8 453.8 60.8 452.8 60.8 452.2 61.2 451.2 60.8 452.2 59.8 453.2 59.8 453.8 59.2ZM445.2 59.2 446.2 59.2 447.8 60.2 448.8 60.2 450.8 61.2 449.8 63.2 448.8 64.2 447.2 64.8 447.2 66.2 446.8 66.8 444.8 66.8 443.8 65.8 443.8 64.8 443.2 64.2 442.2 64.2 441.8 64.8 440.2 64.8 439.8 64.2 440.8 63.2 441.8 63.2 444.8 61.2 444.8 59.8ZM427.8 59.8 428.8 59.2 429.2 60.2 428.2 60.8ZM372.8 59.8 373.8 59.2 374.8 60.2 373.8 60.8ZM441.2 59.2 442.2 58.8 443.2 59.2 443.8 60.2 442.8 61.2 441.2 60.2ZM394.8 59.2 395.2 58.8 396.2 59.8 395.2 60.2ZM42.8 58.8 43.2 59.8 42.2 60.8 41.8 59.8ZM802.8 58.8 803.2 58.2 804.2 58.8 803.8 59.2ZM568.2 59.2 568.8 58.2 569.8 58.8 568.8 59.8ZM375.8 58.8 376.2 58.2 378.2 58.2 378.8 59.2 377.2 60.2 376.2 59.8ZM795.8 58.2 794.8 59.8 792.2 60.2 791.8 60.8 788.8 60.8 787.8 59.8 788.2 59.2 790.2 59.2 792.2 57.8 795.2 57.8ZM753.8 58.2 754.2 57.8 755.2 58.8 754.2 59.2ZM507.8 58.8 508.8 57.8 510.2 57.8 510.8 58.2 510.2 59.2 508.2 59.2ZM445.8 58.8 446.2 57.8 447.2 57.8 447.8 58.2 446.8 59.2ZM424.2 58.2 424.8 57.8 425.2 58.2 424.8 58.8ZM341.2 58.2 341.8 57.8 342.2 58.2 341.8 58.8ZM332.8 58.8 333.8 57.8 335.2 57.8 335.8 58.2 334.8 59.8 333.8 59.8ZM320.2 58.2 320.8 57.8 322.2 57.8 322.8 58.8 322.2 59.2 321.2 59.2ZM806.8 58.8 808.8 57.2 810.2 57.2 811.8 58.8 809.8 60.2 808.8 60.2ZM438.8 57.8 438.8 58.8 438.2 59.2 437.2 59.2 435.8 58.2 438.2 57.2ZM325.8 57.8 326.2 57.2 327.2 57.8 326.8 58.2ZM118.8 57.8 119.2 57.2 120.2 57.2 120.8 58.2 120.2 58.8 119.2 58.8ZM92.2 57.8 92.8 57.2 93.8 57.2 94.8 58.2 94.2 58.8 92.8 58.8ZM56.8 57.8 57.2 57.2 58.2 57.8 57.8 58.2ZM35.8 58.2 37.2 57.2 38.8 59.2 37.8 59.8ZM694.8 57.2 695.2 56.8 695.8 57.2 695.2 57.8ZM423.8 57.2 424.2 56.8 424.8 57.2 424.2 57.8ZM389.2 56.8 390.8 57.8 390.8 58.8 389.8 59.8 388.2 58.2ZM337.2 56.8 338.2 57.2 338.8 59.2 339.8 59.2 340.8 60.2 340.2 61.2 339.2 61.2 338.8 60.8 339.2 61.8 338.8 62.8 337.2 62.2 336.2 61.2 336.8 58.8 335.8 57.8ZM795.8 57.2 796.8 56.2 797.8 56.2 799.2 57.2 798.2 58.2 796.8 58.2ZM782.2 56.8 783.2 56.2 784.2 57.2 783.8 57.8 782.8 57.8ZM554.2 57.2 554.8 56.2 555.8 56.8 554.8 57.8ZM518.2 56.8 518.8 56.2 519.2 56.8 518.8 57.2ZM432.2 56.8 432.8 56.2 433.2 56.8 432.8 57.2ZM392.8 63.2 393.2 62.8 393.2 61.2 394.2 60.2 399.2 60.8 399.8 60.2 399.8 59.2 401.2 58.2 398.8 57.2 399.8 56.2 400.2 56.8 405.2 56.2 405.8 56.8 405.8 57.8 405.2 58.2 406.2 57.2 409.8 57.2 412.2 58.2 413.8 58.2 414.2 57.2 415.2 57.2 415.8 57.8 414.8 58.8 415.8 58.8 416.2 57.8 417.8 56.8 419.2 57.8 417.2 58.8 418.8 59.8 418.2 60.8 415.8 62.2 416.2 62.8 417.2 62.8 417.8 62.2 418.8 63.2 417.2 65.2 414.2 65.2 413.2 63.2 410.8 63.2 408.2 64.8 408.8 65.2 408.8 66.2 407.8 68.2 406.8 68.2 406.2 67.2 405.8 67.8 404.8 67.8 402.8 66.8 402.8 67.8 401.2 68.8 400.2 68.2 399.2 66.8 396.2 66.8 395.2 66.2 393.8 64.8 393.8 63.8ZM247.8 56.8 248.2 56.2 248.8 56.8 248.2 57.2ZM126.2 57.2 126.8 56.2 127.8 56.8 126.8 57.8ZM112.8 56.8 113.2 56.2 114.2 57.2 113.2 57.8ZM658.2 56.8 659.8 55.8 660.8 56.2 659.8 57.2 658.8 57.2ZM141.2 56.2 139.8 58.2 138.8 58.2 137.8 57.2 140.8 55.8ZM812.2 56.2 814.2 55.2 815.8 55.2 816.8 56.2 815.8 57.2 814.8 56.8 812.8 56.8ZM777.2 55.8 777.8 55.2 778.2 55.8 777.8 56.2ZM448.8 55.8 449.8 55.2 450.8 56.2 450.2 56.8 449.2 56.8ZM435.8 55.8 436.2 55.2 437.8 55.2 438.2 55.8 437.8 56.2 436.2 56.2ZM418.8 55.8 419.2 55.2 420.2 55.2 420.8 56.2 420.2 56.8ZM271.8 56.2 272.2 55.2 273.2 55.8 272.2 56.8ZM179.2 56.2 180.2 55.2 181.2 55.2 181.8 55.8 181.2 56.8 179.8 56.8ZM131.8 55.8 132.2 55.2 132.8 55.8 132.2 56.2ZM81.8 56.2 82.8 55.2 84.8 55.2 85.2 55.8 89.2 55.8 90.8 56.8 91.2 57.8 90.8 58.2 89.8 58.2 89.2 57.8 88.2 58.2 83.8 58.2 82.8 57.8ZM585.8 55.2 586.8 54.8 588.2 55.8 587.8 56.2 586.8 56.2ZM574.8 55.2 575.2 54.8 575.8 55.2 575.2 55.8ZM110.2 55.2 110.8 54.8 111.8 55.2 111.2 55.8ZM44.2 56.8 44.2 55.8 45.2 54.8 47.2 55.8 47.2 56.2 45.8 57.2 44.8 57.2ZM555.2 55.2 556.2 54.2 557.2 54.2 557.8 54.8 557.8 55.8 556.8 56.8 556.2 56.8ZM420.2 54.8 420.8 54.2 421.8 54.8 421.2 55.2ZM201.2 54.8 201.8 54.2 203.2 54.2 203.8 54.8 202.8 55.8ZM807.2 54.2 808.2 53.8 809.2 54.8 808.8 55.2 807.8 55.2ZM591.8 54.2 592.2 53.8 592.8 54.2 592.2 54.8ZM438.8 55.8 438.8 54.8 439.8 53.8 441.8 53.8 442.8 55.2 441.8 56.2 439.2 56.2ZM341.2 54.2 341.8 53.8 342.8 53.8 343.8 55.2 343.2 55.8 342.2 55.8ZM261.8 54.2 262.2 53.8 263.2 54.2 262.8 54.8ZM177.2 54.8 178.2 53.8 179.2 54.2 178.2 55.2ZM96.2 54.2 97.2 53.8 98.8 55.8 98.2 56.2 97.2 56.2ZM792.2 54.2 792.8 53.2 793.8 53.8 792.8 54.8ZM604.8 53.8 605.2 53.2 606.2 53.2 607.2 54.8 606.8 55.2 605.8 55.2ZM392.2 55.2 392.2 54.2 393.2 53.2 394.8 54.2 393.2 55.8ZM322.8 53.8 323.2 53.2 324.2 53.8 323.8 54.2ZM75.2 53.8 75.8 53.2 76.8 53.8 76.2 54.2ZM330.2 53.2 330.8 52.8 331.8 53.2 331.2 53.8ZM326.8 53.2 327.2 52.8 329.2 52.8 329.8 53.2 329.2 53.8 327.2 53.8ZM78.2 53.2 78.8 52.8 79.8 53.2 79.2 53.8ZM73.2 53.2 73.8 52.8 74.2 53.8 73.8 54.2ZM805.8 53.2 806.8 52.2 808.2 53.2 807.8 53.8 806.2 53.8ZM595.2 52.8 595.8 52.2 596.8 52.8 596.2 53.2ZM251.2 52.8 251.8 52.2 253.8 52.2 254.8 53.2 254.2 53.8 251.8 53.8ZM80.8 52.8 81.8 52.2 82.2 53.2 81.2 53.8ZM661.8 52.2 662.8 51.8 663.2 52.8 662.8 53.2ZM596.2 52.2 596.8 51.8 597.2 52.2 596.8 52.8ZM581.8 51.8 582.2 52.8 581.8 53.2 580.8 53.2 582.2 54.2 581.8 56.2 580.8 57.2 579.8 57.2 578.8 56.8 577.2 54.8 577.2 53.2 577.8 52.8ZM490.8 52.2 491.2 51.8 493.2 51.8 493.8 52.2 493.8 53.2 492.8 54.2 491.8 54.2 490.8 53.2ZM343.8 53.2 344.8 51.8 346.8 51.8 348.8 52.8 345.2 54.2ZM340.2 52.8 341.2 51.8 342.2 51.8 342.8 52.2 341.8 53.8ZM313.2 52.2 313.8 51.8 315.2 51.8 315.8 52.2 315.2 52.8 313.8 52.8ZM215.8 52.2 216.8 51.8 217.8 52.8 217.2 53.2 216.2 53.2ZM669.2 51.8 669.8 51.2 670.8 51.8 670.2 52.2ZM666.2 51.8 666.8 51.2 667.2 51.8 666.8 52.2ZM551.2 51.8 551.8 51.2 552.8 51.8 552.2 52.2ZM325.8 51.8 326.2 51.2 326.8 51.8 326.2 52.2ZM248.2 51.8 248.8 51.2 249.2 51.8 248.8 52.2ZM204.8 51.8 205.2 51.2 206.2 52.2 205.2 52.8ZM79.8 52.2 80.8 51.2 81.2 51.8 80.8 52.8ZM755.2 51.2 756.2 50.8 757.2 51.8 756.8 52.2 755.8 52.2ZM712.2 51.8 712.8 50.8 713.8 50.8 714.2 51.2 713.2 52.2ZM644.2 51.8 645.8 50.8 646.8 52.2 646.2 52.8 644.8 52.8ZM500.2 51.2 500.8 50.8 501.2 51.2 500.8 51.8ZM446.8 51.8 448.2 50.8 449.2 51.2 449.8 52.2 447.8 53.8ZM440.2 51.2 440.8 50.8 442.2 50.8 442.8 51.8 441.8 52.2ZM436.8 51.8 435.8 53.2 434.2 53.2 433.8 53.8 432.8 52.8 433.2 51.8 435.2 50.8ZM242.8 51.2 243.2 50.8 243.8 51.2 243.2 51.8ZM85.8 51.2 86.2 50.8 86.8 51.2 86.2 51.8ZM523.2 50.8 523.8 50.2 524.8 50.2 525.8 51.2 525.2 51.8 523.8 51.8ZM504.2 50.8 504.8 50.2 505.8 50.8 505.2 51.2ZM500.8 50.8 501.2 50.2 501.8 50.8 501.2 51.2ZM443.8 51.2 444.8 50.2 445.8 50.8 446.2 51.8 445.8 52.2 444.2 52.2ZM384.8 56.2 384.8 56.8 382.8 58.2 381.8 58.2 380.2 57.2 380.8 57.8 380.8 58.8 380.2 59.2 377.8 56.2 378.2 54.8 376.2 56.8 374.2 55.2 374.8 54.8 375.8 55.2 376.2 54.8 375.8 53.8 376.2 53.2 374.2 54.8 372.8 54.8 370.8 57.2 369.2 56.8 367.8 57.8 364.8 58.2 364.2 58.8 364.2 61.8 365.2 61.8 366.8 60.8 367.8 61.8 367.8 63.2 366.8 63.8 365.2 62.8 364.8 63.8 363.8 63.8 363.2 64.2 360.2 64.2 359.2 63.2 358.2 63.2 357.8 63.8 356.8 62.8 357.2 61.8 359.8 59.8 359.2 59.2 357.8 59.2 357.8 59.8 356.8 60.2 355.8 58.8 354.8 58.8 354.2 58.2 353.2 58.8 350.8 57.2 349.2 57.2 348.8 57.8 347.2 57.8 346.8 57.2 345.8 57.8 345.2 57.2 346.8 54.2 347.2 54.2 348.2 55.8 349.2 55.2 350.2 55.2 350.8 55.8 351.8 55.8 352.2 55.2 352.8 55.8 353.8 55.8 354.2 55.2 358.8 55.2 358.8 53.8 360.8 51.8 362.2 51.8 362.8 52.2 363.2 51.8 366.2 52.2 368.8 51.2 369.8 50.2 371.8 51.8 377.2 51.8 377.8 52.2 378.8 52.2 378.2 51.8 378.8 51.2 379.8 51.2 380.8 52.8 382.2 53.2 383.2 55.2ZM85.2 50.8 85.8 50.2 86.2 50.8 85.8 51.2ZM774.8 49.8 775.8 50.8 776.2 52.2 775.2 53.2 773.8 53.2 772.8 51.8 773.8 51.2ZM735.2 50.2 735.8 49.8 736.8 50.2 736.2 50.8ZM721.2 50.2 721.8 49.8 722.2 50.8 721.8 51.2ZM599.2 51.8 601.8 49.8 603.2 49.8 604.2 50.8 604.2 52.2 602.2 53.2 601.2 53.2ZM292.2 50.8 292.8 49.8 294.8 49.8 295.2 50.2 293.8 51.2 292.8 51.2ZM88.2 51.2 88.2 50.2 88.8 49.8 90.2 49.8 92.8 50.8 90.2 51.8 88.8 51.8ZM607.2 50.8 607.2 49.8 607.8 49.2 608.8 49.2 609.8 50.2 608.8 51.2 607.8 51.2ZM552.8 49.8 553.2 49.2 553.8 49.8 554.8 49.8 557.8 52.2 555.8 53.8 553.8 53.8 553.2 52.8 554.2 51.8 552.8 50.8ZM343.2 49.8 343.8 49.2 344.8 49.2 345.2 49.8 344.8 50.2 343.8 50.2ZM333.8 49.8 334.2 49.2 334.8 49.8 334.2 50.2ZM720.8 49.2 721.2 48.8 722.2 49.2 721.8 49.8ZM558.8 49.2 559.2 48.8 559.8 49.2 559.2 49.8ZM489.2 49.2 489.8 48.8 491.2 48.8 491.8 49.8 491.2 50.2 490.2 50.2ZM444.8 49.2 445.2 48.8 445.8 49.2 445.2 49.8ZM355.8 48.8 356.2 49.8 354.8 50.8 354.2 50.2ZM93.2 49.2 93.8 48.8 94.8 48.8 95.2 49.2 94.8 49.8 93.8 49.8ZM66.8 50.2 67.8 48.8 69.8 48.8 70.8 49.2 71.8 50.8 70.8 51.8 67.8 51.8ZM717.2 49.2 718.2 48.2 719.2 48.2 719.8 48.8 718.8 49.8 717.8 49.8ZM697.8 48.8 698.8 48.2 699.2 49.2 698.2 49.8ZM574.8 48.2 575.2 49.2 574.2 50.2 573.8 49.2ZM355.8 48.8 356.2 48.2 358.2 48.2 358.8 48.8 358.2 49.2 356.2 49.2ZM321.2 48.8 321.8 48.2 324.2 48.2 324.8 48.8 323.2 49.8 322.2 49.8ZM261.2 48.8 261.8 48.2 262.2 48.8 261.8 49.2ZM785.2 48.2 785.8 47.8 786.8 48.2 786.2 48.8ZM777.8 48.8 778.8 47.8 779.8 47.8 780.8 49.2 780.2 49.8 778.8 49.8ZM772.2 48.8 772.8 47.8 774.2 47.8 774.8 48.2 773.8 49.2 772.8 49.2ZM769.2 48.2 770.2 47.8 771.2 48.8 770.8 49.2 769.8 49.2ZM659.8 48.8 660.8 47.8 662.2 48.8 661.8 49.2 660.2 49.2ZM487.8 48.8 488.8 47.8 489.8 48.2 489.2 49.2 488.2 49.2ZM469.8 48.2 470.2 47.8 470.8 48.2 470.2 48.8ZM378.2 47.8 378.8 48.2 378.2 49.8 377.2 50.8 376.2 50.8 375.8 50.2 376.8 49.2 376.8 48.2 377.2 47.8ZM333.8 47.8 334.2 48.2 334.2 49.2 332.2 50.2 331.8 49.8 332.2 48.8ZM81.8 48.2 82.2 47.8 82.8 48.2 82.2 48.8ZM707.8 47.8 708.2 47.2 709.2 47.8 708.8 48.2ZM583.2 47.8 583.8 47.2 584.2 47.8 583.8 48.2ZM523.8 47.2 524.8 47.2 525.8 48.2 524.2 50.2 522.8 50.2 521.8 48.8ZM469.2 47.8 469.8 47.2 470.2 47.8 469.8 48.2ZM414.8 47.8 415.2 47.2 416.2 47.2 416.8 48.2 416.2 48.8 415.2 48.8ZM361.2 48.8 362.2 47.2 363.8 47.2 364.2 47.8 364.2 48.2 362.8 49.2 361.8 49.2ZM334.8 47.8 335.2 47.2 335.8 47.8 335.2 48.2ZM755.8 47.2 756.8 46.8 757.2 47.8 756.2 48.2ZM661.2 47.2 661.8 46.8 662.8 47.2 662.2 47.8ZM494.8 46.8 495.2 47.8 493.8 48.8 493.2 47.8ZM364.8 47.2 365.2 46.8 366.2 46.8 366.8 47.8 366.2 48.2 365.2 48.2ZM345.8 47.8 346.8 46.8 348.2 46.8 350.2 48.8 350.2 49.2 349.8 49.8 348.8 49.2 346.2 49.2 345.8 48.8ZM232.8 47.2 233.2 46.8 235.2 46.8 235.8 47.2 234.8 48.2ZM28.2 48.2 29.2 46.8 31.2 46.8 31.8 47.2 31.8 47.8 30.8 48.2 30.8 49.2 30.2 49.8ZM13.2 47.2 13.8 46.8 14.8 46.8 15.2 47.2 14.8 47.8 13.8 47.8ZM800.2 46.8 800.8 46.2 802.2 46.2 802.8 46.8 802.8 47.8 802.2 48.2 800.8 48.2 800.2 47.8ZM753.2 46.8 753.8 46.2 754.8 46.2 755.2 46.8 754.8 47.2 753.8 47.2ZM591.2 47.2 592.2 46.2 597.2 46.2 597.8 46.8 597.8 47.8 595.8 48.8 592.8 48.2ZM519.8 46.8 519.8 47.2 516.8 49.8 515.2 49.8 514.8 49.2 515.2 48.2 516.8 48.2 517.8 46.2 519.2 46.2ZM508.2 47.8 507.2 48.2 507.8 48.8 507.2 49.8 505.8 49.8 505.2 50.2 498.2 49.8 497.8 49.2 498.2 48.2 501.2 48.2 502.8 46.8 505.8 47.8 506.8 46.2ZM460.8 46.8 461.2 46.2 462.2 46.2 462.8 47.2 462.2 47.8 461.2 47.8ZM730.2 46.2 730.8 45.8 731.2 46.8 730.8 47.2ZM658.2 46.2 659.2 45.8 659.8 46.8 658.8 47.2ZM589.8 46.2 590.2 45.8 591.2 46.2 590.8 46.8ZM476.8 46.8 478.2 45.8 480.2 47.2 480.2 48.2 479.8 48.8 478.8 48.8ZM448.8 46.8 449.8 45.8 450.2 46.8 451.8 47.8 450.8 48.8ZM319.8 45.8 320.2 46.2 319.8 46.8 319.8 48.2 318.8 49.2 317.2 49.2 315.8 47.8 316.8 46.8 317.8 46.8ZM70.2 46.8 70.8 45.8 71.8 45.8 72.2 46.2 71.2 47.2ZM664.8 47.2 666.2 45.2 668.2 45.2 668.8 45.8 667.2 47.8 665.2 47.8ZM589.2 45.8 589.8 45.2 590.2 45.8 589.8 46.2ZM543.8 45.8 544.2 45.2 545.2 45.2 546.8 47.2 546.2 47.8ZM524.8 45.8 525.2 45.2 525.8 45.8 527.2 45.8 527.8 45.2 528.2 45.8 529.8 45.8 530.2 46.8 529.2 47.8 528.2 47.8 527.8 47.2 525.8 47.2ZM433.2 48.8 433.8 48.2 435.2 48.2 435.8 47.8 435.8 46.8 436.8 45.8 437.8 45.8 438.2 45.2 438.8 45.8 439.8 45.8 440.8 46.8 441.8 46.8 442.8 47.8 442.2 49.2 440.2 50.8 438.2 50.8 436.8 49.8 434.2 50.2ZM426.8 46.2 427.2 45.2 429.2 45.2 429.8 45.8 428.8 46.8 427.2 46.8ZM420.8 45.8 421.2 45.2 422.2 45.8 421.8 46.2ZM364.2 45.8 364.8 45.2 365.8 45.8 365.2 46.2ZM325.8 45.2 326.8 45.2 327.2 45.8 326.8 46.2 327.8 47.8 327.2 48.8 324.8 48.8 324.2 48.2 324.8 47.8 324.8 46.2ZM50.8 45.8 51.2 45.2 52.2 45.8 51.8 46.2ZM712.2 45.2 713.2 44.8 714.2 45.8 713.8 46.2 712.8 46.2ZM488.8 45.2 489.2 44.8 490.8 44.8 491.2 45.8 489.8 46.8ZM264.2 46.2 264.2 47.2 263.2 48.2 260.2 48.2 258.2 46.8 259.2 45.8 261.2 45.8 262.2 44.8 263.2 44.8ZM741.2 44.8 741.8 44.2 742.8 45.2 741.8 45.8ZM706.8 45.8 707.8 44.2 709.2 45.2 708.2 46.2 707.2 46.2ZM683.2 45.2 684.2 44.2 685.8 44.2 686.2 44.8 687.2 44.8 688.2 45.8 692.8 45.8 693.8 47.2 691.2 49.2 691.2 50.2 690.8 50.8 688.8 50.8 687.2 49.8 685.8 49.8 685.2 49.2 685.2 48.2 685.8 47.8 683.2 46.2ZM678.8 44.8 679.2 44.2 679.8 44.8 679.2 45.2ZM634.8 46.2 635.8 45.2 636.8 45.8 639.8 45.8 638.8 45.2 639.8 44.2 640.8 45.2 643.8 45.2 645.2 46.2 645.2 47.8 644.8 48.2 642.2 48.2 640.8 49.2 637.8 49.2 635.8 47.8ZM495.8 44.8 496.2 44.2 497.2 44.2 497.8 44.8 496.8 45.8ZM483.2 45.2 483.8 44.2 485.2 44.2 485.8 44.8 484.8 45.8 483.8 45.8ZM320.8 44.8 321.2 44.2 322.2 44.2 323.8 45.2 323.8 46.2 323.2 46.8 321.8 46.8ZM263.8 44.8 264.2 44.2 264.8 44.8 264.2 45.2ZM233.8 44.8 234.2 44.2 234.8 44.8 234.2 45.2ZM791.2 44.8 792.2 43.8 793.2 43.8 793.8 44.2 793.8 45.2 793.2 45.8ZM758.2 44.2 758.8 43.8 759.8 43.8 760.2 44.2 762.2 44.2 763.2 45.2 761.2 46.2 760.8 45.8 758.8 45.8 758.2 45.2ZM721.2 43.8 722.2 45.2 720.8 46.8 719.2 46.8 718.8 45.8 720.8 43.8ZM687.8 44.2 688.2 43.8 689.2 43.8 689.8 44.2 689.2 44.8 688.2 44.8ZM660.8 44.2 661.2 43.8 664.8 43.8 665.2 44.8 664.8 45.2 661.8 45.2ZM645.2 44.2 645.8 43.8 646.8 45.2 646.2 45.8ZM628.2 44.8 629.2 43.8 630.2 43.8 631.8 44.8 630.2 46.2 629.2 46.2ZM621.2 44.2 621.8 43.8 622.8 43.8 623.2 44.2 622.8 44.8 621.8 44.8ZM455.2 44.2 455.8 43.8 456.2 44.2 455.8 44.8ZM452.8 44.2 453.2 43.8 454.8 43.8 455.2 44.2 454.8 44.8 453.2 44.8ZM793.8 43.8 794.2 43.2 795.8 43.2 796.2 44.2 795.8 44.8 794.8 44.8ZM734.8 44.2 735.8 43.2 737.2 44.2 736.8 44.8 735.2 44.8ZM607.8 43.8 608.2 43.2 608.8 44.2 608.2 44.8ZM532.8 43.8 533.2 43.2 533.8 43.8 533.2 44.2ZM790.2 43.2 790.8 42.8 791.2 43.8 790.8 44.2ZM768.2 43.2 768.2 44.8 767.8 45.2 766.8 45.2 766.2 45.8 764.8 45.8 764.2 45.2 764.2 44.2 766.8 42.8 767.8 42.8ZM752.8 43.2 753.2 42.8 753.8 43.2 753.2 43.8ZM553.2 43.2 554.2 42.8 556.8 42.8 558.2 44.2 557.8 45.8 556.2 47.8 553.2 47.8 552.2 46.8 553.2 45.8 552.2 44.8ZM385.8 48.8 388.2 47.8 387.8 47.2 388.8 46.2 389.8 46.2 390.2 47.2 390.8 46.8 391.8 46.8 392.2 46.2 392.2 44.8 394.2 42.8 395.8 42.8 398.2 44.2 398.8 46.2 399.8 46.2 400.2 45.8 403.8 46.2 406.2 45.2 407.2 43.8 408.2 43.8 409.2 44.8 408.2 46.2 410.2 47.2 411.8 49.2 417.2 49.2 417.8 48.8 420.2 48.8 423.8 50.2 426.8 50.2 427.2 51.2 425.2 53.2 420.2 52.8 418.8 53.8 417.8 52.8 414.8 52.2 411.8 54.2 410.2 53.2 408.8 53.2 408.8 54.2 408.2 54.8 407.2 54.2 407.8 52.8 406.8 52.2 404.8 52.2 403.8 51.2 402.2 52.2 402.8 55.8 401.8 56.2 399.8 54.8 399.8 53.8 397.2 52.8 392.8 52.8 392.2 53.8 389.8 53.2 388.8 51.8 389.2 51.2 391.8 51.8 390.2 50.8 388.8 51.8 387.2 51.8 386.8 51.2 386.8 49.2ZM313.2 43.2 313.8 42.8 315.2 42.8 315.8 43.2 314.2 44.2ZM268.8 43.2 269.2 42.8 270.2 42.8 270.8 43.8 269.8 44.2ZM751.2 42.8 751.8 42.2 752.8 42.2 753.2 42.8 752.8 43.2 751.8 43.2ZM570.2 44.8 570.8 43.8 573.8 42.2 577.8 42.2 578.8 43.2 578.8 44.2 577.2 45.8 574.8 46.2 573.2 47.2 571.8 47.2ZM546.8 42.8 547.8 42.2 548.2 43.2 547.8 43.8ZM485.2 42.8 485.8 42.2 486.2 42.8 485.8 43.2ZM432.8 42.8 433.2 42.2 433.8 43.2 433.2 43.8ZM365.8 42.8 366.2 42.2 366.8 42.8 366.2 43.2ZM194.8 43.2 195.8 42.2 196.2 42.8 195.8 43.8ZM684.2 42.2 684.8 41.8 685.8 41.8 686.2 42.2 685.8 42.8 684.8 42.8ZM681.2 42.2 681.8 41.8 682.2 42.8 681.8 43.2ZM657.2 43.2 658.2 42.2 659.8 42.2 660.2 41.8 661.8 41.8 662.8 42.8 659.8 44.8 658.8 44.8ZM623.2 42.2 623.8 41.8 624.2 42.2 623.8 42.8ZM351.2 42.2 351.8 41.8 352.8 42.8 351.8 43.2ZM530.2 41.8 530.8 41.2 532.2 41.2 532.8 41.8 532.2 42.2 530.8 42.2ZM498.2 43.2 499.2 42.2 502.2 41.2 502.8 41.8 502.8 43.8 503.2 44.8 502.8 45.2 500.8 45.2 500.2 44.8 499.2 44.8ZM421.2 42.8 422.2 41.2 423.8 41.2 424.2 41.8 426.2 41.2 428.2 42.8 429.8 42.8 431.2 43.8 432.8 43.8 433.8 45.2 432.2 46.8 431.2 46.8 428.8 44.8 427.2 44.8 426.8 45.2 422.8 44.8 421.2 43.8ZM736.2 41.8 737.2 40.8 738.2 41.2 738.2 42.2 737.8 42.8ZM481.8 41.2 482.8 40.8 483.2 41.8 484.2 41.8 485.2 42.8 484.8 43.2 482.8 43.2ZM761.8 40.8 762.2 40.2 762.8 40.8 762.2 41.2ZM717.8 40.8 718.8 40.2 719.8 41.2 719.2 41.8 718.2 41.8ZM559.8 41.2 560.8 40.2 562.2 41.2 561.2 42.2ZM555.8 41.2 556.2 40.2 557.2 40.8 556.2 41.8ZM536.8 40.8 537.8 40.2 539.2 41.2 538.8 41.8 537.8 41.8ZM512.2 40.8 512.8 40.2 513.8 40.2 514.2 41.2 513.8 41.8 512.8 41.8ZM397.8 40.8 398.8 40.2 399.2 41.2 398.2 41.8ZM20.8 40.8 21.2 40.2 21.8 40.8 21.2 41.2ZM727.8 40.2 728.2 39.8 729.2 40.2 728.8 40.8ZM625.2 40.2 625.8 39.8 627.8 39.8 628.2 40.8 629.2 40.2 630.2 42.8 627.2 44.8 626.2 43.2 626.8 42.8 628.2 42.8 628.2 42.2 627.8 41.8 626.2 41.8ZM595.8 42.8 596.2 41.8 598.2 40.2 599.2 40.2 599.8 39.8 604.2 40.2 604.8 40.8 604.2 41.8 601.8 42.2 601.2 42.8 597.8 42.8 597.2 43.2 596.2 43.2ZM533.8 40.8 535.2 39.8 536.2 39.8 536.8 40.2 535.8 41.2 534.2 41.2ZM339.8 40.2 340.2 39.8 340.8 40.2 340.2 40.8ZM297.2 40.2 297.8 39.8 298.2 40.2 297.8 40.8ZM767.2 39.2 767.8 39.8 767.8 40.8 766.8 41.2 766.2 40.2ZM703.2 39.8 703.8 39.2 704.8 39.8 704.2 40.2ZM687.8 39.8 688.2 39.2 690.2 39.2 690.8 40.2 690.2 40.8 688.2 40.8ZM680.2 40.2 681.2 39.2 682.2 40.2 681.8 40.8 680.8 40.8ZM567.8 40.2 568.8 39.2 569.8 39.2 570.8 40.2 570.2 40.8 568.2 40.8ZM566.8 39.8 567.2 39.2 568.2 39.8 567.8 40.2ZM541.8 40.2 543.2 39.2 544.2 39.8 545.2 41.2 543.2 42.2ZM415.2 39.2 416.2 39.2 416.8 39.8 416.8 41.2 417.8 42.2 417.8 43.2 416.8 44.2 413.2 44.2 412.8 43.8 412.8 42.8 414.2 41.2 414.2 40.2ZM716.8 39.2 717.2 38.8 717.8 39.2 717.2 39.8ZM681.2 39.2 681.8 38.8 682.8 38.8 683.2 39.8 682.2 40.2ZM656.8 39.2 657.8 38.8 658.2 39.2 660.2 39.2 660.8 39.8 659.8 40.8 658.8 40.8ZM643.8 41.2 644.8 39.8 645.8 39.8 645.8 39.2 646.8 38.8 647.2 39.8 650.8 39.8 653.8 42.2 656.2 43.2 653.8 45.2 650.2 45.8 649.8 45.2 650.2 44.2 646.8 43.2 645.8 41.8 644.8 42.2ZM580.2 39.8 581.2 38.8 582.2 39.8 581.8 40.2 580.8 40.2ZM545.8 39.2 546.2 38.8 548.8 38.8 549.8 39.8 548.8 40.8 546.8 40.8ZM517.2 39.8 518.2 38.8 518.8 39.2 518.2 40.2ZM490.2 42.8 490.8 39.8 491.8 38.8 497.2 38.8 498.2 39.8 498.2 41.2 495.2 43.2 493.2 43.2 492.8 42.8 490.8 43.2ZM422.8 38.8 423.2 39.2 422.8 40.2 421.2 41.2 420.2 39.8ZM340.2 39.8 340.8 38.8 343.2 38.8 343.8 39.2 342.8 40.2 340.8 40.2ZM678.8 38.2 679.2 38.8 677.8 40.8 676.8 40.8 676.2 39.8 677.8 38.2ZM660.8 38.8 661.2 38.2 661.8 38.8 661.2 39.2ZM656.2 38.8 656.8 38.2 657.2 38.8 656.8 39.2ZM561.2 38.8 561.8 38.2 562.8 39.2 561.8 39.8ZM474.2 38.2 475.2 38.8 476.8 40.8 475.2 42.2 474.2 42.2 473.8 41.8 473.8 42.8 472.8 43.8 470.2 42.8 469.8 41.8 470.2 41.2 471.8 41.2 471.2 39.8 472.2 38.8ZM465.2 38.8 465.8 38.2 466.8 38.8 466.2 39.2ZM343.2 40.2 343.8 39.8 343.8 38.8 344.2 38.2 345.2 38.2 346.8 39.2 348.8 39.2 350.2 40.8 349.2 41.8 345.8 41.8 344.8 42.2ZM329.8 39.8 330.8 38.2 331.8 39.2 330.8 40.2ZM693.2 38.8 694.2 37.8 695.2 37.8 695.8 38.2 694.2 39.2ZM652.2 38.8 653.2 37.8 654.2 38.8 653.8 39.2 652.8 39.2ZM598.2 38.2 599.2 37.8 599.8 38.8 598.8 39.2ZM553.2 38.2 553.8 37.8 554.8 38.2 554.2 38.8ZM443.8 38.2 444.2 37.8 445.2 37.8 445.8 38.2 445.2 38.8 444.2 38.8ZM719.8 38.2 720.8 37.2 722.2 37.2 722.8 38.2 723.8 38.2 724.2 39.2 723.8 39.8 722.2 39.8 721.8 39.2 720.8 39.2ZM630.8 37.2 632.8 38.2 632.8 39.8 633.2 40.2 633.2 41.8 632.8 42.2 631.2 42.2 630.8 41.8 631.2 41.2 629.2 40.2 629.2 38.8ZM486.2 37.8 486.8 37.2 487.8 37.2 488.8 38.2 488.2 38.8 486.8 38.8ZM327.2 37.2 328.2 38.2 326.8 39.8 326.8 40.8 326.2 41.2 323.8 41.8 322.8 39.8 323.8 38.8 325.2 38.2 325.8 37.2ZM728.2 37.2 728.8 36.8 729.2 37.2 728.8 37.8ZM557.8 37.8 558.8 36.8 559.8 36.8 560.8 37.8 560.2 38.2 558.2 38.2ZM503.8 37.2 504.8 36.8 505.2 37.8 504.2 38.2ZM481.8 37.2 482.8 36.8 483.2 37.8 482.2 38.2ZM643.8 36.8 644.2 36.2 646.8 36.2 647.2 37.2 646.8 37.8 645.8 37.8ZM549.8 36.8 550.8 36.2 551.2 36.8 551.2 37.8 550.2 38.2 549.8 37.8ZM771.8 36.2 772.2 35.8 774.2 35.8 774.8 36.8 774.2 37.2ZM739.8 36.2 740.2 35.8 742.2 35.8 742.8 36.2 741.8 37.2ZM542.8 36.2 543.2 35.8 544.2 36.2 543.8 36.8ZM502.2 36.2 502.8 35.8 503.2 36.2 502.8 36.8ZM770.2 35.8 770.8 35.2 771.8 35.2 772.2 35.8 771.8 36.2 770.8 36.2ZM568.2 37.2 568.2 35.8 568.8 35.2 569.8 35.8 571.8 35.2 572.2 35.8 571.2 36.8 569.8 36.8 568.8 37.8ZM488.2 35.8 488.8 35.2 489.8 35.2 490.8 36.2 490.2 36.8 488.8 36.8ZM389.2 36.2 390.2 35.2 391.2 35.2 391.8 35.8 390.8 36.8 389.8 36.8ZM336.2 35.8 336.8 35.2 337.2 35.8 336.8 36.2ZM720.2 35.2 720.8 34.8 721.8 35.2 721.2 35.8ZM687.2 35.8 688.2 34.8 689.2 35.2 688.2 36.8ZM651.2 35.8 652.2 34.8 653.2 35.2 655.2 35.2 656.2 34.8 656.8 35.2 656.8 36.2 655.8 37.2 651.8 36.8ZM647.2 35.2 647.8 34.8 648.8 34.8 649.2 35.2 648.2 36.2ZM633.8 36.8 633.8 35.8 634.8 34.8 635.8 35.2 638.2 35.2 638.8 35.8 638.2 36.2 636.8 36.2 635.8 37.2 634.2 37.2ZM624.8 35.8 625.8 34.8 627.2 36.2 626.2 36.8ZM486.8 35.2 487.2 34.8 487.8 35.2 487.2 35.8ZM724.2 34.8 724.8 34.2 725.2 34.8 724.8 35.2ZM685.8 35.8 685.8 34.8 686.2 34.2 687.8 34.2 688.2 34.8 686.8 36.2ZM642.8 35.2 643.8 34.2 645.2 34.2 646.2 35.2 645.8 35.8 643.2 35.8ZM504.8 34.8 505.2 34.2 506.2 34.2 506.8 35.2 505.8 35.8ZM768.2 34.2 768.8 33.8 769.2 34.2 768.8 34.8ZM742.8 34.2 743.2 33.8 746.2 35.2 744.8 36.2 744.2 35.8 743.2 35.8 742.8 35.2ZM726.8 34.2 727.2 33.8 728.2 33.8 729.2 35.2 728.8 35.8 727.2 35.8 726.8 35.2ZM583.2 34.8 584.2 33.8 585.8 34.8 585.2 35.2 583.8 35.2ZM495.2 34.2 495.8 33.8 496.2 34.2 495.8 34.8ZM401.2 33.8 401.8 34.2 401.8 35.2 400.8 35.8 400.2 34.8ZM721.2 33.8 721.8 33.2 722.2 33.8 721.8 34.2ZM702.2 33.8 702.8 33.2 703.2 33.8 702.8 34.2ZM585.2 38.2 586.8 35.2 589.2 33.2 593.2 35.2 594.2 37.2 593.8 37.8 592.2 37.8 590.8 38.8 588.8 38.8 588.2 39.2 586.2 39.2ZM576.8 36.2 576.8 35.2 578.8 33.2 580.2 33.8 581.8 35.2 580.8 36.2 579.8 36.2 579.2 36.8 577.2 36.8ZM367.2 33.8 367.8 33.2 368.8 33.8 368.2 34.2ZM764.2 33.2 765.2 32.8 765.8 33.8 764.8 34.2ZM508.8 33.2 509.2 32.8 509.8 33.2 509.2 33.8ZM681.8 32.8 682.2 32.2 683.2 32.8 682.8 33.2ZM653.2 32.2 654.8 33.2 653.8 34.8 652.8 34.8 651.8 33.8 651.8 33.2ZM362.2 32.8 362.8 32.2 363.2 32.8 362.8 33.2ZM678.2 33.2 679.8 31.8 681.2 31.8 681.8 32.2 679.8 34.2ZM642.2 32.2 642.8 31.8 643.8 31.8 644.2 32.2 643.2 33.2ZM701.8 31.8 702.2 31.2 702.8 31.8 702.2 32.2ZM728.8 31.2 729.2 30.8 730.2 31.2 729.8 31.8ZM684.8 32.8 685.8 31.8 686.8 31.8 687.2 32.2 688.2 30.8 690.8 31.8 691.8 31.8 692.8 30.8 695.2 31.8 696.8 33.8 697.2 33.2 699.2 33.2 700.8 34.8 700.8 35.8 703.2 35.2 704.2 36.2 704.2 38.8 703.8 39.2 702.8 39.2 702.2 39.8 701.8 38.8 699.8 39.8 701.8 41.2 702.2 40.2 703.2 41.8 701.8 42.8 700.2 44.8 699.8 43.8 696.8 44.2 696.2 43.8 696.8 43.2 696.2 42.8 696.2 40.2 696.8 39.8 696.8 38.8 695.2 37.8 695.8 36.2 694.8 35.2 693.8 35.2 691.8 34.2 686.2 34.2ZM603.2 31.2 604.2 30.8 604.8 31.8 603.8 32.2ZM710.8 30.8 711.2 30.2 712.2 30.8 711.8 31.2ZM721.2 30.2 721.8 29.8 722.2 30.2 721.8 30.8ZM697.8 30.2 698.2 29.8 699.2 30.2 698.8 30.8ZM580.2 30.2 580.8 29.8 581.8 30.8 580.8 31.2ZM767.8 29.8 768.2 29.2 769.8 29.2 770.8 30.2 770.2 30.8 769.2 30.8ZM667.8 29.8 668.2 29.2 670.8 29.2 671.2 29.8 671.2 30.8 669.2 31.8ZM659.8 29.8 661.8 29.2 662.8 31.8 661.8 32.8 659.2 30.2ZM718.2 28.8 718.8 29.8 719.8 29.8 720.8 30.8 720.8 32.8 719.8 33.8 717.8 33.2 717.2 33.8 714.2 34.2 714.2 34.8 716.8 36.8 716.2 39.2 717.2 40.8 714.2 42.2 713.2 42.2 712.2 43.8 710.8 43.8 710.2 42.8 711.2 42.2 709.8 42.2 707.2 39.8 707.2 37.8 708.2 36.2 707.2 35.2 705.8 35.2 705.2 34.8 706.2 33.2 707.2 33.2 709.2 34.2 711.8 31.2 713.2 30.8 713.8 29.8 715.2 30.8 715.8 30.2 716.8 30.2 716.8 29.2 717.2 28.8ZM575.8 29.2 576.2 28.8 576.8 29.2 576.2 29.8ZM661.8 29.2 663.8 28.2 664.8 28.2 665.2 28.8 664.8 29.8 662.2 29.8ZM700.8 28.2 701.2 27.8 702.8 27.8 703.2 28.2 704.2 28.2 705.2 29.2 704.8 29.8 702.2 29.8 701.2 29.2ZM708.8 26.2 709.2 25.8 709.8 26.2 709.2 26.8ZM692.2 23.8 692.8 23.2 693.8 23.8 693.2 24.2ZM213.2 21.8 212.8 22.2 213.2 22.8 213.8 22.2ZM644.8 17.8 644.2 17.2 643.8 17.8Z" fill="#030303" fill-rule="evenodd" stroke="#030303" stroke-width="0.5" stroke-linejoin="round"/></svg>
</body>
</html>
